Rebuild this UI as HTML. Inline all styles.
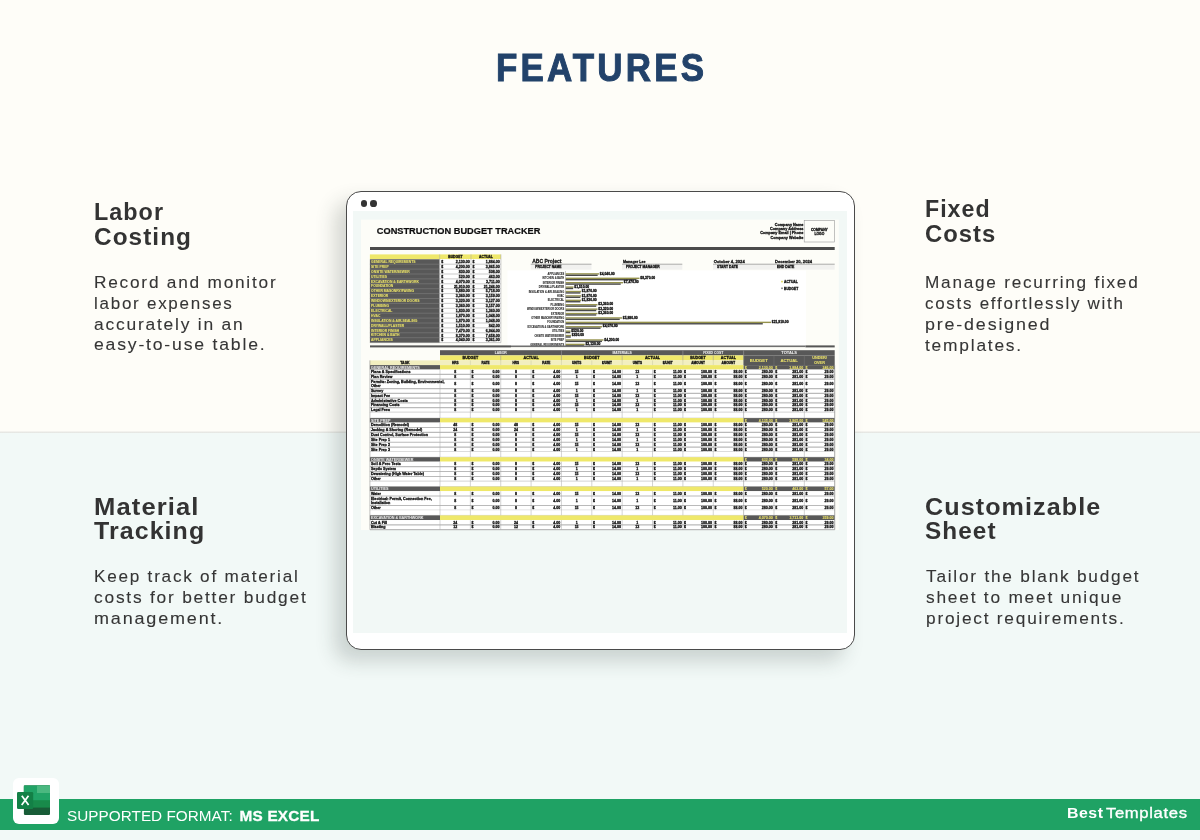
<!DOCTYPE html>
<html><head><meta charset="utf-8"><style>
html,body{margin:0;padding:0;width:1200px;height:840px;overflow:hidden;position:relative;background:#fdfcf7}
body{font-family:"Liberation Sans",sans-serif}
.t{position:absolute;white-space:nowrap;font-family:"Liberation Sans",sans-serif}
#w{position:absolute;left:0;top:0;width:1200px;height:840px;will-change:transform}
</style></head><body><div id="w">
<div style="position:absolute;left:0;top:0;width:1200px;height:432px;background:#fefdf8"></div>
<div style="position:absolute;left:0;top:432px;width:1200px;height:408px;background:#f2f9f7"></div>
<div style="position:absolute;left:0;top:430.5px;width:1200px;height:2.5px;background:linear-gradient(#fefdf8,#e4e3df 60%,#eaefec)"></div>
<div class="t" style="left:496.0px;top:43.81px;font-size:39.5px;line-height:47.4px;font-weight:bold;color:#22426a;letter-spacing:3.6px;transform:scaleX(0.8846);transform-origin:0 0;-webkit-text-stroke:1px #22426a;">FEATURES</div>
<div class="t" style="left:93.7px;top:199.04px;font-size:23.1px;line-height:27.72px;font-weight:bold;color:#333333;letter-spacing:1.0px;transform:scaleX(1.0122);transform-origin:0 0;">Labor</div>
<div class="t" style="left:93.7px;top:223.84px;font-size:23.1px;line-height:27.72px;font-weight:bold;color:#333333;letter-spacing:1.0px;transform:scaleX(1.0547);transform-origin:0 0;">Costing</div>
<div class="t" style="left:93.5px;top:273.09px;font-size:16.6px;line-height:19.92px;font-weight:normal;color:#353535;letter-spacing:1.7px;transform:scaleX(1.0402);transform-origin:0 0;-webkit-text-stroke:0.1px #353535;">Record and monitor</div>
<div class="t" style="left:93.5px;top:293.89px;font-size:16.6px;line-height:19.92px;font-weight:normal;color:#353535;letter-spacing:1.7px;transform:scaleX(1.0239);transform-origin:0 0;-webkit-text-stroke:0.1px #353535;">labor expenses</div>
<div class="t" style="left:93.5px;top:314.69px;font-size:16.6px;line-height:19.92px;font-weight:normal;color:#353535;letter-spacing:1.7px;transform:scaleX(1.0489);transform-origin:0 0;-webkit-text-stroke:0.1px #353535;">accurately in an</div>
<div class="t" style="left:93.5px;top:335.49px;font-size:16.6px;line-height:19.92px;font-weight:normal;color:#353535;letter-spacing:1.7px;transform:scaleX(1.0612);transform-origin:0 0;-webkit-text-stroke:0.1px #353535;">easy-to-use table.</div>
<div class="t" style="left:924.5px;top:195.74px;font-size:23.1px;line-height:27.72px;font-weight:bold;color:#333333;letter-spacing:1.0px;transform:scaleX(1.0041);transform-origin:0 0;">Fixed</div>
<div class="t" style="left:924.5px;top:220.54px;font-size:23.1px;line-height:27.72px;font-weight:bold;color:#333333;letter-spacing:1.0px;transform:scaleX(1.0311);transform-origin:0 0;">Costs</div>
<div class="t" style="left:925.1999999999999px;top:273.19px;font-size:16.6px;line-height:19.92px;font-weight:normal;color:#353535;letter-spacing:1.7px;transform:scaleX(1.0356);transform-origin:0 0;-webkit-text-stroke:0.1px #353535;">Manage recurring fixed</div>
<div class="t" style="left:925.1999999999999px;top:293.99px;font-size:16.6px;line-height:19.92px;font-weight:normal;color:#353535;letter-spacing:1.7px;transform:scaleX(1.0210);transform-origin:0 0;-webkit-text-stroke:0.1px #353535;">costs effortlessly with</div>
<div class="t" style="left:925.1999999999999px;top:314.79px;font-size:16.6px;line-height:19.92px;font-weight:normal;color:#353535;letter-spacing:1.7px;transform:scaleX(1.0770);transform-origin:0 0;-webkit-text-stroke:0.1px #353535;">pre-designed</div>
<div class="t" style="left:925.1999999999999px;top:335.59px;font-size:16.6px;line-height:19.92px;font-weight:normal;color:#353535;letter-spacing:1.7px;transform:scaleX(1.0470);transform-origin:0 0;-webkit-text-stroke:0.1px #353535;">templates.</div>
<div class="t" style="left:93.9px;top:493.64px;font-size:23.1px;line-height:27.72px;font-weight:bold;color:#333333;letter-spacing:1.0px;transform:scaleX(1.1081);transform-origin:0 0;">Material</div>
<div class="t" style="left:93.9px;top:518.44px;font-size:23.1px;line-height:27.72px;font-weight:bold;color:#333333;letter-spacing:1.0px;transform:scaleX(1.0803);transform-origin:0 0;">Tracking</div>
<div class="t" style="left:93.7px;top:567.39px;font-size:16.6px;line-height:19.92px;font-weight:normal;color:#353535;letter-spacing:1.7px;transform:scaleX(1.0337);transform-origin:0 0;-webkit-text-stroke:0.1px #353535;">Keep track of material</div>
<div class="t" style="left:93.7px;top:588.19px;font-size:16.6px;line-height:19.92px;font-weight:normal;color:#353535;letter-spacing:1.7px;transform:scaleX(1.0455);transform-origin:0 0;-webkit-text-stroke:0.1px #353535;">costs for better budget</div>
<div class="t" style="left:93.7px;top:608.99px;font-size:16.6px;line-height:19.92px;font-weight:normal;color:#353535;letter-spacing:1.7px;transform:scaleX(1.0835);transform-origin:0 0;-webkit-text-stroke:0.1px #353535;">management.</div>
<div class="t" style="left:924.9000000000001px;top:493.64px;font-size:23.1px;line-height:27.72px;font-weight:bold;color:#333333;letter-spacing:1.0px;transform:scaleX(1.0877);transform-origin:0 0;">Customizable</div>
<div class="t" style="left:924.9000000000001px;top:518.44px;font-size:23.1px;line-height:27.72px;font-weight:bold;color:#333333;letter-spacing:1.0px;transform:scaleX(1.0537);transform-origin:0 0;">Sheet</div>
<div class="t" style="left:925.6px;top:567.39px;font-size:16.6px;line-height:19.92px;font-weight:normal;color:#353535;letter-spacing:1.7px;transform:scaleX(1.0404);transform-origin:0 0;-webkit-text-stroke:0.1px #353535;">Tailor the blank budget</div>
<div class="t" style="left:925.6px;top:588.19px;font-size:16.6px;line-height:19.92px;font-weight:normal;color:#353535;letter-spacing:1.7px;transform:scaleX(1.0435);transform-origin:0 0;-webkit-text-stroke:0.1px #353535;">sheet to meet unique</div>
<div class="t" style="left:925.6px;top:608.99px;font-size:16.6px;line-height:19.92px;font-weight:normal;color:#353535;letter-spacing:1.7px;transform:scaleX(1.0415);transform-origin:0 0;-webkit-text-stroke:0.1px #353535;">project requirements.</div>
<div style="position:absolute;left:345.5px;top:190.5px;width:509.5px;height:459.5px;box-sizing:border-box;border:1.6px solid #4a4a4a;border-radius:15px;background:#fff;box-shadow:-11px 11px 20px rgba(40,55,50,.2)"></div>
<div style="position:absolute;left:360.7px;top:199.9px;width:6.7px;height:6.7px;border-radius:50%;background:#333"></div>
<div style="position:absolute;left:370.2px;top:199.9px;width:6.7px;height:6.7px;border-radius:50%;background:#333"></div>
<div style="position:absolute;left:353px;top:211px;width:494px;height:422px;background:#f2f8f6"></div>
<svg style="position:absolute;left:0;top:0;will-change:transform" width="1200" height="840" viewBox="0 0 1200 840" font-family="Liberation Sans, sans-serif"><rect x="361.00" y="219.70" width="477.80" height="310.30" fill="#fdfdf8"/><text x="376.80" y="234.30" font-size="8.70" fill="#0d0d0d" stroke="#0d0d0d" stroke-width="0.2" font-weight="bold" textLength="163.60" lengthAdjust="spacingAndGlyphs">CONSTRUCTION BUDGET TRACKER</text><text x="803.40" y="225.60" font-size="3.81" fill="#111" stroke="#111" stroke-width="0.28" font-weight="bold" text-anchor="end">Company Name</text><text x="803.40" y="230.00" font-size="3.81" fill="#111" stroke="#111" stroke-width="0.28" font-weight="bold" text-anchor="end">Company Address</text><text x="803.40" y="234.40" font-size="3.81" fill="#111" stroke="#111" stroke-width="0.28" font-weight="bold" text-anchor="end">Company Email | Phone</text><text x="803.40" y="238.80" font-size="3.81" fill="#111" stroke="#111" stroke-width="0.28" font-weight="bold" text-anchor="end">Company Website</text><rect x="804.20" y="220.60" width="30.30" height="21.40" fill="#fdfdf8" stroke="#9a9a9a" stroke-width="0.6"/><text x="819.40" y="230.60" font-size="3.36" fill="#111" stroke="#111" stroke-width="0.28" font-weight="bold" text-anchor="middle">COMPANY</text><text x="819.40" y="234.60" font-size="3.36" fill="#111" stroke="#111" stroke-width="0.28" font-weight="bold" text-anchor="middle">LOGO</text><rect x="370.00" y="247.00" width="464.70" height="3.00" fill="#4b4b4b"/><rect x="369.90" y="254.40" width="131.00" height="4.90" fill="#efe86a"/><text x="455.35" y="258.40" font-size="3.36" fill="#111" stroke="#111" stroke-width="0.28" font-weight="bold" text-anchor="middle">BUDGET</text><text x="485.95" y="258.40" font-size="3.36" fill="#111" stroke="#111" stroke-width="0.28" font-weight="bold" text-anchor="middle">ACTUAL</text><rect x="369.90" y="259.30" width="69.80" height="83.30" fill="#585858"/><rect x="439.70" y="259.30" width="61.20" height="83.30" fill="#ffffff"/><line x1="369.90" y1="264.20" x2="439.70" y2="264.20" stroke="#808080" stroke-width="0.6"/><line x1="439.70" y1="264.20" x2="500.90" y2="264.20" stroke="#a8a8a8" stroke-width="0.6"/><text x="371.10" y="262.90" font-size="3.36" fill="#e9e16a" stroke="#e9e16a" stroke-width="0.05" font-weight="bold">GENERAL REQUIREMENTS</text><text x="441.20" y="263.00" font-size="3.58" fill="#111" stroke="#111" stroke-width="0.28" font-weight="bold">$</text><text x="469.80" y="263.00" font-size="3.58" fill="#111" stroke="#111" stroke-width="0.28" font-weight="bold" text-anchor="end">2,130.00</text><text x="472.50" y="263.00" font-size="3.58" fill="#111" stroke="#111" stroke-width="0.28" font-weight="bold">$</text><text x="499.70" y="263.00" font-size="3.58" fill="#111" stroke="#111" stroke-width="0.28" font-weight="bold" text-anchor="end">1,884.00</text><line x1="369.90" y1="269.10" x2="439.70" y2="269.10" stroke="#808080" stroke-width="0.6"/><line x1="439.70" y1="269.10" x2="500.90" y2="269.10" stroke="#a8a8a8" stroke-width="0.6"/><text x="371.10" y="267.80" font-size="3.36" fill="#e9e16a" stroke="#e9e16a" stroke-width="0.05" font-weight="bold">SITE PREP</text><text x="441.20" y="267.90" font-size="3.58" fill="#111" stroke="#111" stroke-width="0.28" font-weight="bold">$</text><text x="469.80" y="267.90" font-size="3.58" fill="#111" stroke="#111" stroke-width="0.28" font-weight="bold" text-anchor="end">4,200.00</text><text x="472.50" y="267.90" font-size="3.58" fill="#111" stroke="#111" stroke-width="0.28" font-weight="bold">$</text><text x="499.70" y="267.90" font-size="3.58" fill="#111" stroke="#111" stroke-width="0.28" font-weight="bold" text-anchor="end">3,865.00</text><line x1="369.90" y1="274.00" x2="439.70" y2="274.00" stroke="#808080" stroke-width="0.6"/><line x1="439.70" y1="274.00" x2="500.90" y2="274.00" stroke="#a8a8a8" stroke-width="0.6"/><text x="371.10" y="272.70" font-size="3.36" fill="#e9e16a" stroke="#e9e16a" stroke-width="0.05" font-weight="bold">ONSITE WATER/SEWER</text><text x="441.20" y="272.80" font-size="3.58" fill="#111" stroke="#111" stroke-width="0.28" font-weight="bold">$</text><text x="469.80" y="272.80" font-size="3.58" fill="#111" stroke="#111" stroke-width="0.28" font-weight="bold" text-anchor="end">830.00</text><text x="472.50" y="272.80" font-size="3.58" fill="#111" stroke="#111" stroke-width="0.28" font-weight="bold">$</text><text x="499.70" y="272.80" font-size="3.58" fill="#111" stroke="#111" stroke-width="0.28" font-weight="bold" text-anchor="end">508.00</text><line x1="369.90" y1="278.90" x2="439.70" y2="278.90" stroke="#808080" stroke-width="0.6"/><line x1="439.70" y1="278.90" x2="500.90" y2="278.90" stroke="#a8a8a8" stroke-width="0.6"/><text x="371.10" y="277.60" font-size="3.36" fill="#e9e16a" stroke="#e9e16a" stroke-width="0.05" font-weight="bold">UTILITIES</text><text x="441.20" y="277.70" font-size="3.58" fill="#111" stroke="#111" stroke-width="0.28" font-weight="bold">$</text><text x="469.80" y="277.70" font-size="3.58" fill="#111" stroke="#111" stroke-width="0.28" font-weight="bold" text-anchor="end">520.00</text><text x="472.50" y="277.70" font-size="3.58" fill="#111" stroke="#111" stroke-width="0.28" font-weight="bold">$</text><text x="499.70" y="277.70" font-size="3.58" fill="#111" stroke="#111" stroke-width="0.28" font-weight="bold" text-anchor="end">463.00</text><line x1="369.90" y1="283.80" x2="439.70" y2="283.80" stroke="#808080" stroke-width="0.6"/><line x1="439.70" y1="283.80" x2="500.90" y2="283.80" stroke="#a8a8a8" stroke-width="0.6"/><text x="371.10" y="282.50" font-size="3.36" fill="#e9e16a" stroke="#e9e16a" stroke-width="0.05" font-weight="bold">EXCAVATION &amp; EARTHWORK</text><text x="441.20" y="282.60" font-size="3.58" fill="#111" stroke="#111" stroke-width="0.28" font-weight="bold">$</text><text x="469.80" y="282.60" font-size="3.58" fill="#111" stroke="#111" stroke-width="0.28" font-weight="bold" text-anchor="end">4,070.00</text><text x="472.50" y="282.60" font-size="3.58" fill="#111" stroke="#111" stroke-width="0.28" font-weight="bold">$</text><text x="499.70" y="282.60" font-size="3.58" fill="#111" stroke="#111" stroke-width="0.28" font-weight="bold" text-anchor="end">3,711.00</text><line x1="369.90" y1="288.70" x2="439.70" y2="288.70" stroke="#808080" stroke-width="0.6"/><line x1="439.70" y1="288.70" x2="500.90" y2="288.70" stroke="#a8a8a8" stroke-width="0.6"/><text x="371.10" y="287.40" font-size="3.36" fill="#e9e16a" stroke="#e9e16a" stroke-width="0.05" font-weight="bold">FOUNDATION</text><text x="441.20" y="287.50" font-size="3.58" fill="#111" stroke="#111" stroke-width="0.28" font-weight="bold">$</text><text x="469.80" y="287.50" font-size="3.58" fill="#111" stroke="#111" stroke-width="0.28" font-weight="bold" text-anchor="end">21,910.00</text><text x="472.50" y="287.50" font-size="3.58" fill="#111" stroke="#111" stroke-width="0.28" font-weight="bold">$</text><text x="499.70" y="287.50" font-size="3.58" fill="#111" stroke="#111" stroke-width="0.28" font-weight="bold" text-anchor="end">21,246.00</text><line x1="369.90" y1="293.60" x2="439.70" y2="293.60" stroke="#808080" stroke-width="0.6"/><line x1="439.70" y1="293.60" x2="500.90" y2="293.60" stroke="#a8a8a8" stroke-width="0.6"/><text x="371.10" y="292.30" font-size="3.36" fill="#e9e16a" stroke="#e9e16a" stroke-width="0.05" font-weight="bold">OTHER MASONRY/PAVING</text><text x="441.20" y="292.40" font-size="3.58" fill="#111" stroke="#111" stroke-width="0.28" font-weight="bold">$</text><text x="469.80" y="292.40" font-size="3.58" fill="#111" stroke="#111" stroke-width="0.28" font-weight="bold" text-anchor="end">5,880.00</text><text x="472.50" y="292.40" font-size="3.58" fill="#111" stroke="#111" stroke-width="0.28" font-weight="bold">$</text><text x="499.70" y="292.40" font-size="3.58" fill="#111" stroke="#111" stroke-width="0.28" font-weight="bold" text-anchor="end">5,718.00</text><line x1="369.90" y1="298.50" x2="439.70" y2="298.50" stroke="#808080" stroke-width="0.6"/><line x1="439.70" y1="298.50" x2="500.90" y2="298.50" stroke="#a8a8a8" stroke-width="0.6"/><text x="371.10" y="297.20" font-size="3.36" fill="#e9e16a" stroke="#e9e16a" stroke-width="0.05" font-weight="bold">EXTERIOR</text><text x="441.20" y="297.30" font-size="3.58" fill="#111" stroke="#111" stroke-width="0.28" font-weight="bold">$</text><text x="469.80" y="297.30" font-size="3.58" fill="#111" stroke="#111" stroke-width="0.28" font-weight="bold" text-anchor="end">3,360.00</text><text x="472.50" y="297.30" font-size="3.58" fill="#111" stroke="#111" stroke-width="0.28" font-weight="bold">$</text><text x="499.70" y="297.30" font-size="3.58" fill="#111" stroke="#111" stroke-width="0.28" font-weight="bold" text-anchor="end">3,159.00</text><line x1="369.90" y1="303.40" x2="439.70" y2="303.40" stroke="#808080" stroke-width="0.6"/><line x1="439.70" y1="303.40" x2="500.90" y2="303.40" stroke="#a8a8a8" stroke-width="0.6"/><text x="371.10" y="302.10" font-size="3.36" fill="#e9e16a" stroke="#e9e16a" stroke-width="0.05" font-weight="bold">WINDOWS/EXTERIOR DOORS</text><text x="441.20" y="302.20" font-size="3.58" fill="#111" stroke="#111" stroke-width="0.28" font-weight="bold">$</text><text x="469.80" y="302.20" font-size="3.58" fill="#111" stroke="#111" stroke-width="0.28" font-weight="bold" text-anchor="end">3,320.00</text><text x="472.50" y="302.20" font-size="3.58" fill="#111" stroke="#111" stroke-width="0.28" font-weight="bold">$</text><text x="499.70" y="302.20" font-size="3.58" fill="#111" stroke="#111" stroke-width="0.28" font-weight="bold" text-anchor="end">3,127.00</text><line x1="369.90" y1="308.30" x2="439.70" y2="308.30" stroke="#808080" stroke-width="0.6"/><line x1="439.70" y1="308.30" x2="500.90" y2="308.30" stroke="#a8a8a8" stroke-width="0.6"/><text x="371.10" y="307.00" font-size="3.36" fill="#e9e16a" stroke="#e9e16a" stroke-width="0.05" font-weight="bold">PLUMBING</text><text x="441.20" y="307.10" font-size="3.58" fill="#111" stroke="#111" stroke-width="0.28" font-weight="bold">$</text><text x="469.80" y="307.10" font-size="3.58" fill="#111" stroke="#111" stroke-width="0.28" font-weight="bold" text-anchor="end">3,360.00</text><text x="472.50" y="307.10" font-size="3.58" fill="#111" stroke="#111" stroke-width="0.28" font-weight="bold">$</text><text x="499.70" y="307.10" font-size="3.58" fill="#111" stroke="#111" stroke-width="0.28" font-weight="bold" text-anchor="end">3,157.00</text><line x1="369.90" y1="313.20" x2="439.70" y2="313.20" stroke="#808080" stroke-width="0.6"/><line x1="439.70" y1="313.20" x2="500.90" y2="313.20" stroke="#a8a8a8" stroke-width="0.6"/><text x="371.10" y="311.90" font-size="3.36" fill="#e9e16a" stroke="#e9e16a" stroke-width="0.05" font-weight="bold">ELECTRICAL</text><text x="441.20" y="312.00" font-size="3.58" fill="#111" stroke="#111" stroke-width="0.28" font-weight="bold">$</text><text x="469.80" y="312.00" font-size="3.58" fill="#111" stroke="#111" stroke-width="0.28" font-weight="bold" text-anchor="end">1,830.00</text><text x="472.50" y="312.00" font-size="3.58" fill="#111" stroke="#111" stroke-width="0.28" font-weight="bold">$</text><text x="499.70" y="312.00" font-size="3.58" fill="#111" stroke="#111" stroke-width="0.28" font-weight="bold" text-anchor="end">1,360.00</text><line x1="369.90" y1="318.10" x2="439.70" y2="318.10" stroke="#808080" stroke-width="0.6"/><line x1="439.70" y1="318.10" x2="500.90" y2="318.10" stroke="#a8a8a8" stroke-width="0.6"/><text x="371.10" y="316.80" font-size="3.36" fill="#e9e16a" stroke="#e9e16a" stroke-width="0.05" font-weight="bold">HVAC</text><text x="441.20" y="316.90" font-size="3.58" fill="#111" stroke="#111" stroke-width="0.28" font-weight="bold">$</text><text x="469.80" y="316.90" font-size="3.58" fill="#111" stroke="#111" stroke-width="0.28" font-weight="bold" text-anchor="end">1,870.00</text><text x="472.50" y="316.90" font-size="3.58" fill="#111" stroke="#111" stroke-width="0.28" font-weight="bold">$</text><text x="499.70" y="316.90" font-size="3.58" fill="#111" stroke="#111" stroke-width="0.28" font-weight="bold" text-anchor="end">1,048.00</text><line x1="369.90" y1="323.00" x2="439.70" y2="323.00" stroke="#808080" stroke-width="0.6"/><line x1="439.70" y1="323.00" x2="500.90" y2="323.00" stroke="#a8a8a8" stroke-width="0.6"/><text x="371.10" y="321.70" font-size="3.36" fill="#e9e16a" stroke="#e9e16a" stroke-width="0.05" font-weight="bold">INSULATION &amp; AIR-SEALING</text><text x="441.20" y="321.80" font-size="3.58" fill="#111" stroke="#111" stroke-width="0.28" font-weight="bold">$</text><text x="469.80" y="321.80" font-size="3.58" fill="#111" stroke="#111" stroke-width="0.28" font-weight="bold" text-anchor="end">1,870.00</text><text x="472.50" y="321.80" font-size="3.58" fill="#111" stroke="#111" stroke-width="0.28" font-weight="bold">$</text><text x="499.70" y="321.80" font-size="3.58" fill="#111" stroke="#111" stroke-width="0.28" font-weight="bold" text-anchor="end">1,048.00</text><line x1="369.90" y1="327.90" x2="439.70" y2="327.90" stroke="#808080" stroke-width="0.6"/><line x1="439.70" y1="327.90" x2="500.90" y2="327.90" stroke="#a8a8a8" stroke-width="0.6"/><text x="371.10" y="326.60" font-size="3.36" fill="#e9e16a" stroke="#e9e16a" stroke-width="0.05" font-weight="bold">DRYWALL/PLASTER</text><text x="441.20" y="326.70" font-size="3.58" fill="#111" stroke="#111" stroke-width="0.28" font-weight="bold">$</text><text x="469.80" y="326.70" font-size="3.58" fill="#111" stroke="#111" stroke-width="0.28" font-weight="bold" text-anchor="end">1,510.00</text><text x="472.50" y="326.70" font-size="3.58" fill="#111" stroke="#111" stroke-width="0.28" font-weight="bold">$</text><text x="499.70" y="326.70" font-size="3.58" fill="#111" stroke="#111" stroke-width="0.28" font-weight="bold" text-anchor="end">842.00</text><line x1="369.90" y1="332.80" x2="439.70" y2="332.80" stroke="#808080" stroke-width="0.6"/><line x1="439.70" y1="332.80" x2="500.90" y2="332.80" stroke="#a8a8a8" stroke-width="0.6"/><text x="371.10" y="331.50" font-size="3.36" fill="#e9e16a" stroke="#e9e16a" stroke-width="0.05" font-weight="bold">INTERIOR FINISH</text><text x="441.20" y="331.60" font-size="3.58" fill="#111" stroke="#111" stroke-width="0.28" font-weight="bold">$</text><text x="469.80" y="331.60" font-size="3.58" fill="#111" stroke="#111" stroke-width="0.28" font-weight="bold" text-anchor="end">7,470.00</text><text x="472.50" y="331.60" font-size="3.58" fill="#111" stroke="#111" stroke-width="0.28" font-weight="bold">$</text><text x="499.70" y="331.60" font-size="3.58" fill="#111" stroke="#111" stroke-width="0.28" font-weight="bold" text-anchor="end">6,944.00</text><line x1="369.90" y1="337.70" x2="439.70" y2="337.70" stroke="#808080" stroke-width="0.6"/><line x1="439.70" y1="337.70" x2="500.90" y2="337.70" stroke="#a8a8a8" stroke-width="0.6"/><text x="371.10" y="336.40" font-size="3.36" fill="#e9e16a" stroke="#e9e16a" stroke-width="0.05" font-weight="bold">KITCHEN &amp; BATH</text><text x="441.20" y="336.50" font-size="3.58" fill="#111" stroke="#111" stroke-width="0.28" font-weight="bold">$</text><text x="469.80" y="336.50" font-size="3.58" fill="#111" stroke="#111" stroke-width="0.28" font-weight="bold" text-anchor="end">8,370.00</text><text x="472.50" y="336.50" font-size="3.58" fill="#111" stroke="#111" stroke-width="0.28" font-weight="bold">$</text><text x="499.70" y="336.50" font-size="3.58" fill="#111" stroke="#111" stroke-width="0.28" font-weight="bold" text-anchor="end">7,658.00</text><line x1="369.90" y1="342.60" x2="439.70" y2="342.60" stroke="#808080" stroke-width="0.6"/><line x1="439.70" y1="342.60" x2="500.90" y2="342.60" stroke="#a8a8a8" stroke-width="0.6"/><text x="371.10" y="341.30" font-size="3.36" fill="#e9e16a" stroke="#e9e16a" stroke-width="0.05" font-weight="bold">APPLIANCES</text><text x="441.20" y="341.40" font-size="3.58" fill="#111" stroke="#111" stroke-width="0.28" font-weight="bold">$</text><text x="469.80" y="341.40" font-size="3.58" fill="#111" stroke="#111" stroke-width="0.28" font-weight="bold" text-anchor="end">4,040.00</text><text x="472.50" y="341.40" font-size="3.58" fill="#111" stroke="#111" stroke-width="0.28" font-weight="bold">$</text><text x="499.70" y="341.40" font-size="3.58" fill="#111" stroke="#111" stroke-width="0.28" font-weight="bold" text-anchor="end">3,361.00</text><line x1="439.70" y1="254.40" x2="439.70" y2="342.60" stroke="#a8a8a8" stroke-width="0.5"/><line x1="471.00" y1="254.40" x2="471.00" y2="342.60" stroke="#a8a8a8" stroke-width="0.5"/><line x1="500.90" y1="254.40" x2="500.90" y2="342.60" stroke="#a8a8a8" stroke-width="0.6"/><rect x="530.70" y="264.40" width="60.80" height="5.20" fill="#f1f1ef"/><rect x="622.00" y="264.40" width="60.30" height="5.20" fill="#f1f1ef"/><rect x="713.00" y="264.40" width="121.70" height="5.20" fill="#f1f1ef"/><text x="532.20" y="262.70" font-size="5.38" fill="#111" stroke="#111" stroke-width="0.28" font-weight="bold" textLength="29.20" lengthAdjust="spacingAndGlyphs">ABC Project</text><line x1="530.70" y1="264.20" x2="591.50" y2="264.20" stroke="#8a8a8a" stroke-width="0.7"/><text x="535.20" y="268.20" font-size="3.36" fill="#111" stroke="#111" stroke-width="0.28" font-weight="bold" textLength="26.30" lengthAdjust="spacingAndGlyphs">PROJECT NAME</text><text x="623.00" y="262.60" font-size="4.37" fill="#111" stroke="#111" stroke-width="0.28" font-weight="bold" textLength="22.50" lengthAdjust="spacingAndGlyphs">Manager Lee</text><line x1="622.00" y1="264.20" x2="682.30" y2="264.20" stroke="#8a8a8a" stroke-width="0.7"/><text x="626.00" y="268.20" font-size="3.36" fill="#111" stroke="#111" stroke-width="0.28" font-weight="bold" textLength="33.70" lengthAdjust="spacingAndGlyphs">PROJECT MANAGER</text><text x="713.80" y="262.60" font-size="4.37" fill="#111" stroke="#111" stroke-width="0.28" font-weight="bold" textLength="30.90" lengthAdjust="spacingAndGlyphs">October 4, 2024</text><text x="775.00" y="262.60" font-size="4.37" fill="#111" stroke="#111" stroke-width="0.28" font-weight="bold" textLength="37.00" lengthAdjust="spacingAndGlyphs">December 20, 2024</text><line x1="713.00" y1="264.20" x2="834.70" y2="264.20" stroke="#8a8a8a" stroke-width="0.7"/><text x="717.00" y="268.20" font-size="3.36" fill="#111" stroke="#111" stroke-width="0.28" font-weight="bold" textLength="21.00" lengthAdjust="spacingAndGlyphs">START DATE</text><text x="777.00" y="268.20" font-size="3.36" fill="#111" stroke="#111" stroke-width="0.28" font-weight="bold" textLength="17.40" lengthAdjust="spacingAndGlyphs">END DATE</text><rect x="507.50" y="270.50" width="298.50" height="75.50" fill="#ffffff"/><text x="564.20" y="275.00" font-size="2.58" fill="#1a1a1a" stroke="#1a1a1a" stroke-width="0.05" font-weight="bold" text-anchor="end">APPLIANCES</text><rect x="565.50" y="273.20" width="33.50" height="1.40" fill="#95924c"/><rect x="565.50" y="274.60" width="32.16" height="1.40" fill="#4a4a4a"/><text x="599.80" y="274.60" font-size="3.36" fill="#111" stroke="#111" stroke-width="0.28" font-weight="bold">$4,040.00</text><text x="564.20" y="279.41" font-size="2.58" fill="#1a1a1a" stroke="#1a1a1a" stroke-width="0.05" font-weight="bold" text-anchor="end">KITCHEN &amp; BATH</text><rect x="565.50" y="277.61" width="74.00" height="1.40" fill="#95924c"/><rect x="565.50" y="279.01" width="71.04" height="1.40" fill="#4a4a4a"/><text x="640.30" y="279.01" font-size="3.36" fill="#111" stroke="#111" stroke-width="0.28" font-weight="bold">$8,370.00</text><text x="564.20" y="283.81" font-size="2.58" fill="#1a1a1a" stroke="#1a1a1a" stroke-width="0.05" font-weight="bold" text-anchor="end">INTERIOR FINISH</text><rect x="565.50" y="282.01" width="57.50" height="1.40" fill="#95924c"/><rect x="565.50" y="283.41" width="55.20" height="1.40" fill="#4a4a4a"/><text x="623.80" y="283.41" font-size="3.36" fill="#111" stroke="#111" stroke-width="0.28" font-weight="bold">$7,470.00</text><text x="564.20" y="288.22" font-size="2.58" fill="#1a1a1a" stroke="#1a1a1a" stroke-width="0.05" font-weight="bold" text-anchor="end">DRYWALL/PLASTER</text><rect x="565.50" y="286.42" width="8.00" height="1.40" fill="#95924c"/><rect x="565.50" y="287.82" width="7.68" height="1.40" fill="#4a4a4a"/><text x="574.30" y="287.82" font-size="3.36" fill="#111" stroke="#111" stroke-width="0.28" font-weight="bold">$1,510.00</text><text x="564.20" y="292.62" font-size="2.58" fill="#1a1a1a" stroke="#1a1a1a" stroke-width="0.05" font-weight="bold" text-anchor="end">INSULATION &amp; AIR-SEALING</text><rect x="565.50" y="290.82" width="15.50" height="1.40" fill="#95924c"/><rect x="565.50" y="292.23" width="14.88" height="1.40" fill="#4a4a4a"/><text x="581.80" y="292.23" font-size="3.36" fill="#111" stroke="#111" stroke-width="0.28" font-weight="bold">$1,870.00</text><text x="564.20" y="297.03" font-size="2.58" fill="#1a1a1a" stroke="#1a1a1a" stroke-width="0.05" font-weight="bold" text-anchor="end">HVAC</text><rect x="565.50" y="295.23" width="15.50" height="1.40" fill="#95924c"/><rect x="565.50" y="296.63" width="14.88" height="1.40" fill="#4a4a4a"/><text x="581.80" y="296.63" font-size="3.36" fill="#111" stroke="#111" stroke-width="0.28" font-weight="bold">$1,870.00</text><text x="564.20" y="301.44" font-size="2.58" fill="#1a1a1a" stroke="#1a1a1a" stroke-width="0.05" font-weight="bold" text-anchor="end">ELECTRICAL</text><rect x="565.50" y="299.64" width="15.50" height="1.40" fill="#95924c"/><rect x="565.50" y="301.04" width="14.88" height="1.40" fill="#4a4a4a"/><text x="581.80" y="301.04" font-size="3.36" fill="#111" stroke="#111" stroke-width="0.28" font-weight="bold">$1,830.00</text><text x="564.20" y="305.84" font-size="2.58" fill="#1a1a1a" stroke="#1a1a1a" stroke-width="0.05" font-weight="bold" text-anchor="end">PLUMBING</text><rect x="565.50" y="304.04" width="32.00" height="1.40" fill="#95924c"/><rect x="565.50" y="305.44" width="30.72" height="1.40" fill="#4a4a4a"/><text x="598.30" y="305.44" font-size="3.36" fill="#111" stroke="#111" stroke-width="0.28" font-weight="bold">$3,360.00</text><text x="564.20" y="310.25" font-size="2.58" fill="#1a1a1a" stroke="#1a1a1a" stroke-width="0.05" font-weight="bold" text-anchor="end">WINDOWS/EXTERIOR DOORS</text><rect x="565.50" y="308.45" width="32.00" height="1.40" fill="#95924c"/><rect x="565.50" y="309.85" width="30.72" height="1.40" fill="#4a4a4a"/><text x="598.30" y="309.85" font-size="3.36" fill="#111" stroke="#111" stroke-width="0.28" font-weight="bold">$3,320.00</text><text x="564.20" y="314.66" font-size="2.58" fill="#1a1a1a" stroke="#1a1a1a" stroke-width="0.05" font-weight="bold" text-anchor="end">EXTERIOR</text><rect x="565.50" y="312.86" width="32.00" height="1.40" fill="#95924c"/><rect x="565.50" y="314.26" width="30.72" height="1.40" fill="#4a4a4a"/><text x="598.30" y="314.26" font-size="3.36" fill="#111" stroke="#111" stroke-width="0.28" font-weight="bold">$3,360.00</text><text x="564.20" y="319.06" font-size="2.58" fill="#1a1a1a" stroke="#1a1a1a" stroke-width="0.05" font-weight="bold" text-anchor="end">OTHER MASONRY/PAVING</text><rect x="565.50" y="317.26" width="56.50" height="1.40" fill="#95924c"/><rect x="565.50" y="318.66" width="54.24" height="1.40" fill="#4a4a4a"/><text x="622.80" y="318.66" font-size="3.36" fill="#111" stroke="#111" stroke-width="0.28" font-weight="bold">$5,880.00</text><text x="564.20" y="323.47" font-size="2.58" fill="#1a1a1a" stroke="#1a1a1a" stroke-width="0.05" font-weight="bold" text-anchor="end">FOUNDATION</text><rect x="565.50" y="321.67" width="205.50" height="1.40" fill="#95924c"/><rect x="565.50" y="323.07" width="197.28" height="1.40" fill="#4a4a4a"/><text x="771.80" y="323.07" font-size="3.36" fill="#111" stroke="#111" stroke-width="0.28" font-weight="bold">$21,910.00</text><text x="564.20" y="327.88" font-size="2.58" fill="#1a1a1a" stroke="#1a1a1a" stroke-width="0.05" font-weight="bold" text-anchor="end">EXCAVATION &amp; EARTHWORK</text><rect x="565.50" y="326.07" width="36.50" height="1.40" fill="#95924c"/><rect x="565.50" y="327.48" width="35.04" height="1.40" fill="#4a4a4a"/><text x="602.80" y="327.48" font-size="3.36" fill="#111" stroke="#111" stroke-width="0.28" font-weight="bold">$4,070.00</text><text x="564.20" y="332.28" font-size="2.58" fill="#1a1a1a" stroke="#1a1a1a" stroke-width="0.05" font-weight="bold" text-anchor="end">UTILITIES</text><rect x="565.50" y="330.48" width="5.00" height="1.40" fill="#95924c"/><rect x="565.50" y="331.88" width="4.80" height="1.40" fill="#4a4a4a"/><text x="571.30" y="331.88" font-size="3.36" fill="#111" stroke="#111" stroke-width="0.28" font-weight="bold">$520.00</text><text x="564.20" y="336.69" font-size="2.58" fill="#1a1a1a" stroke="#1a1a1a" stroke-width="0.05" font-weight="bold" text-anchor="end">ONSITE WATER/SEWER</text><rect x="565.50" y="334.89" width="5.50" height="1.40" fill="#95924c"/><rect x="565.50" y="336.29" width="5.28" height="1.40" fill="#4a4a4a"/><text x="571.80" y="336.29" font-size="3.36" fill="#111" stroke="#111" stroke-width="0.28" font-weight="bold">$830.00</text><text x="564.20" y="341.09" font-size="2.58" fill="#1a1a1a" stroke="#1a1a1a" stroke-width="0.05" font-weight="bold" text-anchor="end">SITE PREP</text><rect x="565.50" y="339.29" width="38.00" height="1.40" fill="#95924c"/><rect x="565.50" y="340.69" width="36.48" height="1.40" fill="#4a4a4a"/><text x="604.30" y="340.69" font-size="3.36" fill="#111" stroke="#111" stroke-width="0.28" font-weight="bold">$4,200.00</text><text x="564.20" y="345.50" font-size="2.58" fill="#1a1a1a" stroke="#1a1a1a" stroke-width="0.05" font-weight="bold" text-anchor="end">GENERAL REQUIREMENTS</text><rect x="565.50" y="343.70" width="19.20" height="1.40" fill="#95924c"/><rect x="565.50" y="345.10" width="18.43" height="1.40" fill="#4a4a4a"/><text x="585.50" y="345.10" font-size="3.36" fill="#111" stroke="#111" stroke-width="0.28" font-weight="bold">$2,130.00</text><line x1="565.50" y1="271.00" x2="565.50" y2="346.00" stroke="#9a9a9a" stroke-width="0.5"/><rect x="781.20" y="280.80" width="1.60" height="1.60" fill="#d9d24e"/><text x="784.00" y="283.00" font-size="3.36" fill="#111" stroke="#111" stroke-width="0.28" font-weight="bold">ACTUAL</text><rect x="781.20" y="287.50" width="1.60" height="1.60" fill="#777"/><text x="784.00" y="289.60" font-size="3.36" fill="#111" stroke="#111" stroke-width="0.28" font-weight="bold">BUDGET</text><rect x="370.00" y="345.40" width="141.00" height="2.00" fill="#555555"/><rect x="511.00" y="345.50" width="294.50" height="1.60" fill="#707070"/><rect x="805.50" y="345.40" width="29.20" height="2.00" fill="#555555"/><rect x="440.00" y="350.20" width="394.70" height="5.20" fill="#585858"/><text x="500.72" y="354.20" font-size="3.36" fill="#eee" stroke="#eee" stroke-width="0.05" font-weight="bold" text-anchor="middle">LABOR</text><text x="622.17" y="354.20" font-size="3.36" fill="#eee" stroke="#eee" stroke-width="0.05" font-weight="bold" text-anchor="middle">MATERIALS</text><text x="713.25" y="354.20" font-size="3.36" fill="#eee" stroke="#eee" stroke-width="0.05" font-weight="bold" text-anchor="middle">FIXED COST</text><text x="789.16" y="354.40" font-size="4.03" fill="#eee" stroke="#eee" stroke-width="0.05" font-weight="bold" text-anchor="middle">TOTALS</text><rect x="440.00" y="355.40" width="303.62" height="5.00" fill="#efe86a"/><text x="470.36" y="359.30" font-size="3.70" fill="#111" stroke="#111" stroke-width="0.28" font-weight="bold" text-anchor="middle">BUDGET</text><text x="531.08" y="359.30" font-size="3.70" fill="#111" stroke="#111" stroke-width="0.28" font-weight="bold" text-anchor="middle">ACTUAL</text><text x="591.81" y="359.30" font-size="3.70" fill="#111" stroke="#111" stroke-width="0.28" font-weight="bold" text-anchor="middle">BUDGET</text><text x="652.53" y="359.30" font-size="3.70" fill="#111" stroke="#111" stroke-width="0.28" font-weight="bold" text-anchor="middle">ACTUAL</text><text x="698.07" y="359.30" font-size="3.70" fill="#111" stroke="#111" stroke-width="0.28" font-weight="bold" text-anchor="middle">BUDGET</text><text x="728.43" y="359.30" font-size="3.70" fill="#111" stroke="#111" stroke-width="0.28" font-weight="bold" text-anchor="middle">ACTUAL</text><rect x="369.90" y="360.40" width="373.72" height="4.70" fill="#f2efc0"/><text x="404.95" y="364.10" font-size="3.58" fill="#111" stroke="#111" stroke-width="0.28" font-weight="bold" text-anchor="middle">TASK</text><text x="455.18" y="364.00" font-size="3.14" fill="#111" stroke="#111" stroke-width="0.28" font-weight="bold" text-anchor="middle">HRS</text><text x="485.54" y="364.00" font-size="3.14" fill="#111" stroke="#111" stroke-width="0.28" font-weight="bold" text-anchor="middle">RATE</text><text x="515.90" y="364.00" font-size="3.14" fill="#111" stroke="#111" stroke-width="0.28" font-weight="bold" text-anchor="middle">HRS</text><text x="546.27" y="364.00" font-size="3.14" fill="#111" stroke="#111" stroke-width="0.28" font-weight="bold" text-anchor="middle">RATE</text><text x="576.63" y="364.00" font-size="3.14" fill="#111" stroke="#111" stroke-width="0.28" font-weight="bold" text-anchor="middle">UNITS</text><text x="606.99" y="364.00" font-size="3.14" fill="#111" stroke="#111" stroke-width="0.28" font-weight="bold" text-anchor="middle">$/UNIT</text><text x="637.35" y="364.00" font-size="3.14" fill="#111" stroke="#111" stroke-width="0.28" font-weight="bold" text-anchor="middle">UNITS</text><text x="667.71" y="364.00" font-size="3.14" fill="#111" stroke="#111" stroke-width="0.28" font-weight="bold" text-anchor="middle">$/UNIT</text><text x="698.07" y="364.00" font-size="3.14" fill="#111" stroke="#111" stroke-width="0.28" font-weight="bold" text-anchor="middle">AMOUNT</text><text x="728.43" y="364.00" font-size="3.14" fill="#111" stroke="#111" stroke-width="0.28" font-weight="bold" text-anchor="middle">AMOUNT</text><rect x="743.62" y="355.40" width="91.08" height="9.70" fill="#585858"/><text x="758.80" y="361.60" font-size="4.26" fill="#ece36c" stroke="#ece36c" stroke-width="0.05" font-weight="bold" text-anchor="middle">BUDGET</text><text x="789.16" y="361.60" font-size="4.26" fill="#ece36c" stroke="#ece36c" stroke-width="0.05" font-weight="bold" text-anchor="middle">ACTUAL</text><text x="819.52" y="359.40" font-size="3.81" fill="#ece36c" stroke="#ece36c" stroke-width="0.05" font-weight="bold" text-anchor="middle">UNDER/</text><text x="819.52" y="363.60" font-size="3.81" fill="#ece36c" stroke="#ece36c" stroke-width="0.05" font-weight="bold" text-anchor="middle">OVER</text><line x1="369.90" y1="360.40" x2="369.90" y2="365.10" stroke="#777" stroke-width="0.5"/><line x1="561.45" y1="350.20" x2="561.45" y2="355.40" stroke="#8a8a8a" stroke-width="0.8"/><line x1="682.89" y1="350.20" x2="682.89" y2="355.40" stroke="#8a8a8a" stroke-width="0.8"/><line x1="743.62" y1="350.20" x2="743.62" y2="355.40" stroke="#8a8a8a" stroke-width="0.8"/><line x1="500.72" y1="355.40" x2="500.72" y2="360.40" stroke="#b9b38a" stroke-width="0.8"/><line x1="561.45" y1="355.40" x2="561.45" y2="360.40" stroke="#b9b38a" stroke-width="0.8"/><line x1="622.17" y1="355.40" x2="622.17" y2="360.40" stroke="#b9b38a" stroke-width="0.8"/><line x1="682.89" y1="355.40" x2="682.89" y2="360.40" stroke="#b9b38a" stroke-width="0.8"/><line x1="713.25" y1="355.40" x2="713.25" y2="360.40" stroke="#b9b38a" stroke-width="0.8"/><line x1="743.62" y1="355.40" x2="743.62" y2="360.40" stroke="#b9b38a" stroke-width="0.8"/><line x1="470.36" y1="360.40" x2="470.36" y2="365.10" stroke="#c8c8a0" stroke-width="0.5"/><line x1="500.72" y1="360.40" x2="500.72" y2="365.10" stroke="#c8c8a0" stroke-width="0.5"/><line x1="531.08" y1="360.40" x2="531.08" y2="365.10" stroke="#c8c8a0" stroke-width="0.5"/><line x1="561.45" y1="360.40" x2="561.45" y2="365.10" stroke="#c8c8a0" stroke-width="0.5"/><line x1="591.81" y1="360.40" x2="591.81" y2="365.10" stroke="#c8c8a0" stroke-width="0.5"/><line x1="622.17" y1="360.40" x2="622.17" y2="365.10" stroke="#c8c8a0" stroke-width="0.5"/><line x1="652.53" y1="360.40" x2="652.53" y2="365.10" stroke="#c8c8a0" stroke-width="0.5"/><line x1="682.89" y1="360.40" x2="682.89" y2="365.10" stroke="#c8c8a0" stroke-width="0.5"/><line x1="713.25" y1="360.40" x2="713.25" y2="365.10" stroke="#c8c8a0" stroke-width="0.5"/><line x1="743.62" y1="355.40" x2="743.62" y2="365.10" stroke="#777" stroke-width="0.5"/><line x1="773.98" y1="355.40" x2="773.98" y2="365.10" stroke="#777" stroke-width="0.5"/><line x1="804.34" y1="355.40" x2="804.34" y2="365.10" stroke="#777" stroke-width="0.5"/><rect x="369.90" y="365.10" width="70.10" height="4.50" fill="#585858"/><text x="371.10" y="368.70" font-size="3.70" fill="#e6e6e6" stroke="#e6e6e6" stroke-width="0.05" font-weight="bold">GENERAL REQUIREMENTS</text><rect x="440.00" y="365.10" width="303.62" height="4.50" fill="#efe86a"/><rect x="743.62" y="365.10" width="91.08" height="4.50" fill="#585858"/><text x="744.82" y="368.70" font-size="3.58" fill="#ece36c" stroke="#ece36c" stroke-width="0.05" font-weight="bold">$</text><text x="772.78" y="368.70" font-size="3.58" fill="#ece36c" stroke="#ece36c" stroke-width="0.05" font-weight="bold" text-anchor="end">2,130.00</text><text x="775.18" y="368.70" font-size="3.58" fill="#ece36c" stroke="#ece36c" stroke-width="0.05" font-weight="bold">$</text><text x="803.14" y="368.70" font-size="3.58" fill="#ece36c" stroke="#ece36c" stroke-width="0.05" font-weight="bold" text-anchor="end">1,884.00</text><text x="805.54" y="368.70" font-size="3.58" fill="#ece36c" stroke="#ece36c" stroke-width="0.05" font-weight="bold">$</text><text x="833.50" y="368.70" font-size="3.58" fill="#ece36c" stroke="#ece36c" stroke-width="0.05" font-weight="bold" text-anchor="end">246.00</text><rect x="369.90" y="369.60" width="464.80" height="42.80" fill="#ffffff"/><text x="370.90" y="373.08" font-size="3.70" fill="#111" stroke="#111" stroke-width="0.28" font-weight="bold">Plans &amp; Specifications</text><text x="455.18" y="373.08" font-size="3.58" fill="#111" stroke="#111" stroke-width="0.28" font-weight="bold" text-anchor="middle">8</text><text x="471.56" y="373.08" font-size="3.58" fill="#111" stroke="#111" stroke-width="0.28" font-weight="bold">$</text><text x="499.52" y="373.08" font-size="3.58" fill="#111" stroke="#111" stroke-width="0.28" font-weight="bold" text-anchor="end">0.00</text><text x="515.90" y="373.08" font-size="3.58" fill="#111" stroke="#111" stroke-width="0.28" font-weight="bold" text-anchor="middle">8</text><text x="532.28" y="373.08" font-size="3.58" fill="#111" stroke="#111" stroke-width="0.28" font-weight="bold">$</text><text x="560.25" y="373.08" font-size="3.58" fill="#111" stroke="#111" stroke-width="0.28" font-weight="bold" text-anchor="end">4.00</text><text x="576.63" y="373.08" font-size="3.58" fill="#111" stroke="#111" stroke-width="0.28" font-weight="bold" text-anchor="middle">15</text><text x="593.01" y="373.08" font-size="3.58" fill="#111" stroke="#111" stroke-width="0.28" font-weight="bold">$</text><text x="620.97" y="373.08" font-size="3.58" fill="#111" stroke="#111" stroke-width="0.28" font-weight="bold" text-anchor="end">14.00</text><text x="637.35" y="373.08" font-size="3.58" fill="#111" stroke="#111" stroke-width="0.28" font-weight="bold" text-anchor="middle">13</text><text x="653.73" y="373.08" font-size="3.58" fill="#111" stroke="#111" stroke-width="0.28" font-weight="bold">$</text><text x="681.69" y="373.08" font-size="3.58" fill="#111" stroke="#111" stroke-width="0.28" font-weight="bold" text-anchor="end">11.00</text><text x="684.09" y="373.08" font-size="3.58" fill="#111" stroke="#111" stroke-width="0.28" font-weight="bold">$</text><text x="712.05" y="373.08" font-size="3.58" fill="#111" stroke="#111" stroke-width="0.28" font-weight="bold" text-anchor="end">100.00</text><text x="714.45" y="373.08" font-size="3.58" fill="#111" stroke="#111" stroke-width="0.28" font-weight="bold">$</text><text x="742.42" y="373.08" font-size="3.58" fill="#111" stroke="#111" stroke-width="0.28" font-weight="bold" text-anchor="end">88.00</text><text x="744.82" y="373.08" font-size="3.58" fill="#111" stroke="#111" stroke-width="0.28" font-weight="bold">$</text><text x="772.78" y="373.08" font-size="3.58" fill="#111" stroke="#111" stroke-width="0.28" font-weight="bold" text-anchor="end">280.00</text><text x="775.18" y="373.08" font-size="3.58" fill="#111" stroke="#111" stroke-width="0.28" font-weight="bold">$</text><text x="803.14" y="373.08" font-size="3.58" fill="#111" stroke="#111" stroke-width="0.28" font-weight="bold" text-anchor="end">281.00</text><text x="805.54" y="373.08" font-size="3.58" fill="#111" stroke="#111" stroke-width="0.28" font-weight="bold">$</text><text x="833.50" y="373.08" font-size="3.58" fill="#111" stroke="#111" stroke-width="0.28" font-weight="bold" text-anchor="end">29.00</text><line x1="369.90" y1="374.36" x2="834.70" y2="374.36" stroke="#bababa" stroke-width="1.1"/><text x="370.90" y="377.83" font-size="3.70" fill="#111" stroke="#111" stroke-width="0.28" font-weight="bold">Plan Review</text><text x="455.18" y="377.83" font-size="3.58" fill="#111" stroke="#111" stroke-width="0.28" font-weight="bold" text-anchor="middle">8</text><text x="471.56" y="377.83" font-size="3.58" fill="#111" stroke="#111" stroke-width="0.28" font-weight="bold">$</text><text x="499.52" y="377.83" font-size="3.58" fill="#111" stroke="#111" stroke-width="0.28" font-weight="bold" text-anchor="end">0.00</text><text x="515.90" y="377.83" font-size="3.58" fill="#111" stroke="#111" stroke-width="0.28" font-weight="bold" text-anchor="middle">8</text><text x="532.28" y="377.83" font-size="3.58" fill="#111" stroke="#111" stroke-width="0.28" font-weight="bold">$</text><text x="560.25" y="377.83" font-size="3.58" fill="#111" stroke="#111" stroke-width="0.28" font-weight="bold" text-anchor="end">4.00</text><text x="576.63" y="377.83" font-size="3.58" fill="#111" stroke="#111" stroke-width="0.28" font-weight="bold" text-anchor="middle">1</text><text x="593.01" y="377.83" font-size="3.58" fill="#111" stroke="#111" stroke-width="0.28" font-weight="bold">$</text><text x="620.97" y="377.83" font-size="3.58" fill="#111" stroke="#111" stroke-width="0.28" font-weight="bold" text-anchor="end">14.00</text><text x="637.35" y="377.83" font-size="3.58" fill="#111" stroke="#111" stroke-width="0.28" font-weight="bold" text-anchor="middle">1</text><text x="653.73" y="377.83" font-size="3.58" fill="#111" stroke="#111" stroke-width="0.28" font-weight="bold">$</text><text x="681.69" y="377.83" font-size="3.58" fill="#111" stroke="#111" stroke-width="0.28" font-weight="bold" text-anchor="end">11.00</text><text x="684.09" y="377.83" font-size="3.58" fill="#111" stroke="#111" stroke-width="0.28" font-weight="bold">$</text><text x="712.05" y="377.83" font-size="3.58" fill="#111" stroke="#111" stroke-width="0.28" font-weight="bold" text-anchor="end">100.00</text><text x="714.45" y="377.83" font-size="3.58" fill="#111" stroke="#111" stroke-width="0.28" font-weight="bold">$</text><text x="742.42" y="377.83" font-size="3.58" fill="#111" stroke="#111" stroke-width="0.28" font-weight="bold" text-anchor="end">88.00</text><text x="744.82" y="377.83" font-size="3.58" fill="#111" stroke="#111" stroke-width="0.28" font-weight="bold">$</text><text x="772.78" y="377.83" font-size="3.58" fill="#111" stroke="#111" stroke-width="0.28" font-weight="bold" text-anchor="end">280.00</text><text x="775.18" y="377.83" font-size="3.58" fill="#111" stroke="#111" stroke-width="0.28" font-weight="bold">$</text><text x="803.14" y="377.83" font-size="3.58" fill="#111" stroke="#111" stroke-width="0.28" font-weight="bold" text-anchor="end">281.00</text><text x="805.54" y="377.83" font-size="3.58" fill="#111" stroke="#111" stroke-width="0.28" font-weight="bold">$</text><text x="833.50" y="377.83" font-size="3.58" fill="#111" stroke="#111" stroke-width="0.28" font-weight="bold" text-anchor="end">29.00</text><line x1="369.90" y1="379.11" x2="834.70" y2="379.11" stroke="#bababa" stroke-width="1.1"/><text x="370.90" y="382.71" font-size="3.70" fill="#111" stroke="#111" stroke-width="0.28" font-weight="bold">Permits: Zoning, Building, Environmental,</text><text x="370.90" y="387.47" font-size="3.70" fill="#111" stroke="#111" stroke-width="0.28" font-weight="bold">Other</text><text x="455.18" y="384.97" font-size="3.58" fill="#111" stroke="#111" stroke-width="0.28" font-weight="bold" text-anchor="middle">8</text><text x="471.56" y="384.97" font-size="3.58" fill="#111" stroke="#111" stroke-width="0.28" font-weight="bold">$</text><text x="499.52" y="384.97" font-size="3.58" fill="#111" stroke="#111" stroke-width="0.28" font-weight="bold" text-anchor="end">0.00</text><text x="515.90" y="384.97" font-size="3.58" fill="#111" stroke="#111" stroke-width="0.28" font-weight="bold" text-anchor="middle">8</text><text x="532.28" y="384.97" font-size="3.58" fill="#111" stroke="#111" stroke-width="0.28" font-weight="bold">$</text><text x="560.25" y="384.97" font-size="3.58" fill="#111" stroke="#111" stroke-width="0.28" font-weight="bold" text-anchor="end">4.00</text><text x="576.63" y="384.97" font-size="3.58" fill="#111" stroke="#111" stroke-width="0.28" font-weight="bold" text-anchor="middle">15</text><text x="593.01" y="384.97" font-size="3.58" fill="#111" stroke="#111" stroke-width="0.28" font-weight="bold">$</text><text x="620.97" y="384.97" font-size="3.58" fill="#111" stroke="#111" stroke-width="0.28" font-weight="bold" text-anchor="end">14.00</text><text x="637.35" y="384.97" font-size="3.58" fill="#111" stroke="#111" stroke-width="0.28" font-weight="bold" text-anchor="middle">13</text><text x="653.73" y="384.97" font-size="3.58" fill="#111" stroke="#111" stroke-width="0.28" font-weight="bold">$</text><text x="681.69" y="384.97" font-size="3.58" fill="#111" stroke="#111" stroke-width="0.28" font-weight="bold" text-anchor="end">11.00</text><text x="684.09" y="384.97" font-size="3.58" fill="#111" stroke="#111" stroke-width="0.28" font-weight="bold">$</text><text x="712.05" y="384.97" font-size="3.58" fill="#111" stroke="#111" stroke-width="0.28" font-weight="bold" text-anchor="end">100.00</text><text x="714.45" y="384.97" font-size="3.58" fill="#111" stroke="#111" stroke-width="0.28" font-weight="bold">$</text><text x="742.42" y="384.97" font-size="3.58" fill="#111" stroke="#111" stroke-width="0.28" font-weight="bold" text-anchor="end">88.00</text><text x="744.82" y="384.97" font-size="3.58" fill="#111" stroke="#111" stroke-width="0.28" font-weight="bold">$</text><text x="772.78" y="384.97" font-size="3.58" fill="#111" stroke="#111" stroke-width="0.28" font-weight="bold" text-anchor="end">280.00</text><text x="775.18" y="384.97" font-size="3.58" fill="#111" stroke="#111" stroke-width="0.28" font-weight="bold">$</text><text x="803.14" y="384.97" font-size="3.58" fill="#111" stroke="#111" stroke-width="0.28" font-weight="bold" text-anchor="end">281.00</text><text x="805.54" y="384.97" font-size="3.58" fill="#111" stroke="#111" stroke-width="0.28" font-weight="bold">$</text><text x="833.50" y="384.97" font-size="3.58" fill="#111" stroke="#111" stroke-width="0.28" font-weight="bold" text-anchor="end">29.00</text><line x1="369.90" y1="388.62" x2="834.70" y2="388.62" stroke="#bababa" stroke-width="1.1"/><text x="370.90" y="392.10" font-size="3.70" fill="#111" stroke="#111" stroke-width="0.28" font-weight="bold">Survey</text><text x="455.18" y="392.10" font-size="3.58" fill="#111" stroke="#111" stroke-width="0.28" font-weight="bold" text-anchor="middle">8</text><text x="471.56" y="392.10" font-size="3.58" fill="#111" stroke="#111" stroke-width="0.28" font-weight="bold">$</text><text x="499.52" y="392.10" font-size="3.58" fill="#111" stroke="#111" stroke-width="0.28" font-weight="bold" text-anchor="end">0.00</text><text x="515.90" y="392.10" font-size="3.58" fill="#111" stroke="#111" stroke-width="0.28" font-weight="bold" text-anchor="middle">8</text><text x="532.28" y="392.10" font-size="3.58" fill="#111" stroke="#111" stroke-width="0.28" font-weight="bold">$</text><text x="560.25" y="392.10" font-size="3.58" fill="#111" stroke="#111" stroke-width="0.28" font-weight="bold" text-anchor="end">4.00</text><text x="576.63" y="392.10" font-size="3.58" fill="#111" stroke="#111" stroke-width="0.28" font-weight="bold" text-anchor="middle">1</text><text x="593.01" y="392.10" font-size="3.58" fill="#111" stroke="#111" stroke-width="0.28" font-weight="bold">$</text><text x="620.97" y="392.10" font-size="3.58" fill="#111" stroke="#111" stroke-width="0.28" font-weight="bold" text-anchor="end">14.00</text><text x="637.35" y="392.10" font-size="3.58" fill="#111" stroke="#111" stroke-width="0.28" font-weight="bold" text-anchor="middle">1</text><text x="653.73" y="392.10" font-size="3.58" fill="#111" stroke="#111" stroke-width="0.28" font-weight="bold">$</text><text x="681.69" y="392.10" font-size="3.58" fill="#111" stroke="#111" stroke-width="0.28" font-weight="bold" text-anchor="end">11.00</text><text x="684.09" y="392.10" font-size="3.58" fill="#111" stroke="#111" stroke-width="0.28" font-weight="bold">$</text><text x="712.05" y="392.10" font-size="3.58" fill="#111" stroke="#111" stroke-width="0.28" font-weight="bold" text-anchor="end">100.00</text><text x="714.45" y="392.10" font-size="3.58" fill="#111" stroke="#111" stroke-width="0.28" font-weight="bold">$</text><text x="742.42" y="392.10" font-size="3.58" fill="#111" stroke="#111" stroke-width="0.28" font-weight="bold" text-anchor="end">88.00</text><text x="744.82" y="392.10" font-size="3.58" fill="#111" stroke="#111" stroke-width="0.28" font-weight="bold">$</text><text x="772.78" y="392.10" font-size="3.58" fill="#111" stroke="#111" stroke-width="0.28" font-weight="bold" text-anchor="end">280.00</text><text x="775.18" y="392.10" font-size="3.58" fill="#111" stroke="#111" stroke-width="0.28" font-weight="bold">$</text><text x="803.14" y="392.10" font-size="3.58" fill="#111" stroke="#111" stroke-width="0.28" font-weight="bold" text-anchor="end">281.00</text><text x="805.54" y="392.10" font-size="3.58" fill="#111" stroke="#111" stroke-width="0.28" font-weight="bold">$</text><text x="833.50" y="392.10" font-size="3.58" fill="#111" stroke="#111" stroke-width="0.28" font-weight="bold" text-anchor="end">29.00</text><line x1="369.90" y1="393.38" x2="834.70" y2="393.38" stroke="#bababa" stroke-width="1.1"/><text x="370.90" y="396.86" font-size="3.70" fill="#111" stroke="#111" stroke-width="0.28" font-weight="bold">Impact Fee</text><text x="455.18" y="396.86" font-size="3.58" fill="#111" stroke="#111" stroke-width="0.28" font-weight="bold" text-anchor="middle">8</text><text x="471.56" y="396.86" font-size="3.58" fill="#111" stroke="#111" stroke-width="0.28" font-weight="bold">$</text><text x="499.52" y="396.86" font-size="3.58" fill="#111" stroke="#111" stroke-width="0.28" font-weight="bold" text-anchor="end">0.00</text><text x="515.90" y="396.86" font-size="3.58" fill="#111" stroke="#111" stroke-width="0.28" font-weight="bold" text-anchor="middle">8</text><text x="532.28" y="396.86" font-size="3.58" fill="#111" stroke="#111" stroke-width="0.28" font-weight="bold">$</text><text x="560.25" y="396.86" font-size="3.58" fill="#111" stroke="#111" stroke-width="0.28" font-weight="bold" text-anchor="end">4.00</text><text x="576.63" y="396.86" font-size="3.58" fill="#111" stroke="#111" stroke-width="0.28" font-weight="bold" text-anchor="middle">15</text><text x="593.01" y="396.86" font-size="3.58" fill="#111" stroke="#111" stroke-width="0.28" font-weight="bold">$</text><text x="620.97" y="396.86" font-size="3.58" fill="#111" stroke="#111" stroke-width="0.28" font-weight="bold" text-anchor="end">14.00</text><text x="637.35" y="396.86" font-size="3.58" fill="#111" stroke="#111" stroke-width="0.28" font-weight="bold" text-anchor="middle">13</text><text x="653.73" y="396.86" font-size="3.58" fill="#111" stroke="#111" stroke-width="0.28" font-weight="bold">$</text><text x="681.69" y="396.86" font-size="3.58" fill="#111" stroke="#111" stroke-width="0.28" font-weight="bold" text-anchor="end">11.00</text><text x="684.09" y="396.86" font-size="3.58" fill="#111" stroke="#111" stroke-width="0.28" font-weight="bold">$</text><text x="712.05" y="396.86" font-size="3.58" fill="#111" stroke="#111" stroke-width="0.28" font-weight="bold" text-anchor="end">100.00</text><text x="714.45" y="396.86" font-size="3.58" fill="#111" stroke="#111" stroke-width="0.28" font-weight="bold">$</text><text x="742.42" y="396.86" font-size="3.58" fill="#111" stroke="#111" stroke-width="0.28" font-weight="bold" text-anchor="end">88.00</text><text x="744.82" y="396.86" font-size="3.58" fill="#111" stroke="#111" stroke-width="0.28" font-weight="bold">$</text><text x="772.78" y="396.86" font-size="3.58" fill="#111" stroke="#111" stroke-width="0.28" font-weight="bold" text-anchor="end">280.00</text><text x="775.18" y="396.86" font-size="3.58" fill="#111" stroke="#111" stroke-width="0.28" font-weight="bold">$</text><text x="803.14" y="396.86" font-size="3.58" fill="#111" stroke="#111" stroke-width="0.28" font-weight="bold" text-anchor="end">281.00</text><text x="805.54" y="396.86" font-size="3.58" fill="#111" stroke="#111" stroke-width="0.28" font-weight="bold">$</text><text x="833.50" y="396.86" font-size="3.58" fill="#111" stroke="#111" stroke-width="0.28" font-weight="bold" text-anchor="end">29.00</text><line x1="369.90" y1="398.13" x2="834.70" y2="398.13" stroke="#bababa" stroke-width="1.1"/><text x="370.90" y="401.61" font-size="3.70" fill="#111" stroke="#111" stroke-width="0.28" font-weight="bold">Administrative Costs</text><text x="455.18" y="401.61" font-size="3.58" fill="#111" stroke="#111" stroke-width="0.28" font-weight="bold" text-anchor="middle">8</text><text x="471.56" y="401.61" font-size="3.58" fill="#111" stroke="#111" stroke-width="0.28" font-weight="bold">$</text><text x="499.52" y="401.61" font-size="3.58" fill="#111" stroke="#111" stroke-width="0.28" font-weight="bold" text-anchor="end">0.00</text><text x="515.90" y="401.61" font-size="3.58" fill="#111" stroke="#111" stroke-width="0.28" font-weight="bold" text-anchor="middle">8</text><text x="532.28" y="401.61" font-size="3.58" fill="#111" stroke="#111" stroke-width="0.28" font-weight="bold">$</text><text x="560.25" y="401.61" font-size="3.58" fill="#111" stroke="#111" stroke-width="0.28" font-weight="bold" text-anchor="end">4.00</text><text x="576.63" y="401.61" font-size="3.58" fill="#111" stroke="#111" stroke-width="0.28" font-weight="bold" text-anchor="middle">1</text><text x="593.01" y="401.61" font-size="3.58" fill="#111" stroke="#111" stroke-width="0.28" font-weight="bold">$</text><text x="620.97" y="401.61" font-size="3.58" fill="#111" stroke="#111" stroke-width="0.28" font-weight="bold" text-anchor="end">14.00</text><text x="637.35" y="401.61" font-size="3.58" fill="#111" stroke="#111" stroke-width="0.28" font-weight="bold" text-anchor="middle">1</text><text x="653.73" y="401.61" font-size="3.58" fill="#111" stroke="#111" stroke-width="0.28" font-weight="bold">$</text><text x="681.69" y="401.61" font-size="3.58" fill="#111" stroke="#111" stroke-width="0.28" font-weight="bold" text-anchor="end">11.00</text><text x="684.09" y="401.61" font-size="3.58" fill="#111" stroke="#111" stroke-width="0.28" font-weight="bold">$</text><text x="712.05" y="401.61" font-size="3.58" fill="#111" stroke="#111" stroke-width="0.28" font-weight="bold" text-anchor="end">100.00</text><text x="714.45" y="401.61" font-size="3.58" fill="#111" stroke="#111" stroke-width="0.28" font-weight="bold">$</text><text x="742.42" y="401.61" font-size="3.58" fill="#111" stroke="#111" stroke-width="0.28" font-weight="bold" text-anchor="end">88.00</text><text x="744.82" y="401.61" font-size="3.58" fill="#111" stroke="#111" stroke-width="0.28" font-weight="bold">$</text><text x="772.78" y="401.61" font-size="3.58" fill="#111" stroke="#111" stroke-width="0.28" font-weight="bold" text-anchor="end">280.00</text><text x="775.18" y="401.61" font-size="3.58" fill="#111" stroke="#111" stroke-width="0.28" font-weight="bold">$</text><text x="803.14" y="401.61" font-size="3.58" fill="#111" stroke="#111" stroke-width="0.28" font-weight="bold" text-anchor="end">281.00</text><text x="805.54" y="401.61" font-size="3.58" fill="#111" stroke="#111" stroke-width="0.28" font-weight="bold">$</text><text x="833.50" y="401.61" font-size="3.58" fill="#111" stroke="#111" stroke-width="0.28" font-weight="bold" text-anchor="end">29.00</text><line x1="369.90" y1="402.89" x2="834.70" y2="402.89" stroke="#bababa" stroke-width="1.1"/><text x="370.90" y="406.37" font-size="3.70" fill="#111" stroke="#111" stroke-width="0.28" font-weight="bold">Financing Costs</text><text x="455.18" y="406.37" font-size="3.58" fill="#111" stroke="#111" stroke-width="0.28" font-weight="bold" text-anchor="middle">8</text><text x="471.56" y="406.37" font-size="3.58" fill="#111" stroke="#111" stroke-width="0.28" font-weight="bold">$</text><text x="499.52" y="406.37" font-size="3.58" fill="#111" stroke="#111" stroke-width="0.28" font-weight="bold" text-anchor="end">0.00</text><text x="515.90" y="406.37" font-size="3.58" fill="#111" stroke="#111" stroke-width="0.28" font-weight="bold" text-anchor="middle">8</text><text x="532.28" y="406.37" font-size="3.58" fill="#111" stroke="#111" stroke-width="0.28" font-weight="bold">$</text><text x="560.25" y="406.37" font-size="3.58" fill="#111" stroke="#111" stroke-width="0.28" font-weight="bold" text-anchor="end">4.00</text><text x="576.63" y="406.37" font-size="3.58" fill="#111" stroke="#111" stroke-width="0.28" font-weight="bold" text-anchor="middle">15</text><text x="593.01" y="406.37" font-size="3.58" fill="#111" stroke="#111" stroke-width="0.28" font-weight="bold">$</text><text x="620.97" y="406.37" font-size="3.58" fill="#111" stroke="#111" stroke-width="0.28" font-weight="bold" text-anchor="end">14.00</text><text x="637.35" y="406.37" font-size="3.58" fill="#111" stroke="#111" stroke-width="0.28" font-weight="bold" text-anchor="middle">13</text><text x="653.73" y="406.37" font-size="3.58" fill="#111" stroke="#111" stroke-width="0.28" font-weight="bold">$</text><text x="681.69" y="406.37" font-size="3.58" fill="#111" stroke="#111" stroke-width="0.28" font-weight="bold" text-anchor="end">11.00</text><text x="684.09" y="406.37" font-size="3.58" fill="#111" stroke="#111" stroke-width="0.28" font-weight="bold">$</text><text x="712.05" y="406.37" font-size="3.58" fill="#111" stroke="#111" stroke-width="0.28" font-weight="bold" text-anchor="end">100.00</text><text x="714.45" y="406.37" font-size="3.58" fill="#111" stroke="#111" stroke-width="0.28" font-weight="bold">$</text><text x="742.42" y="406.37" font-size="3.58" fill="#111" stroke="#111" stroke-width="0.28" font-weight="bold" text-anchor="end">88.00</text><text x="744.82" y="406.37" font-size="3.58" fill="#111" stroke="#111" stroke-width="0.28" font-weight="bold">$</text><text x="772.78" y="406.37" font-size="3.58" fill="#111" stroke="#111" stroke-width="0.28" font-weight="bold" text-anchor="end">280.00</text><text x="775.18" y="406.37" font-size="3.58" fill="#111" stroke="#111" stroke-width="0.28" font-weight="bold">$</text><text x="803.14" y="406.37" font-size="3.58" fill="#111" stroke="#111" stroke-width="0.28" font-weight="bold" text-anchor="end">281.00</text><text x="805.54" y="406.37" font-size="3.58" fill="#111" stroke="#111" stroke-width="0.28" font-weight="bold">$</text><text x="833.50" y="406.37" font-size="3.58" fill="#111" stroke="#111" stroke-width="0.28" font-weight="bold" text-anchor="end">29.00</text><line x1="369.90" y1="407.64" x2="834.70" y2="407.64" stroke="#bababa" stroke-width="1.1"/><text x="370.90" y="411.12" font-size="3.70" fill="#111" stroke="#111" stroke-width="0.28" font-weight="bold">Legal Fees</text><text x="455.18" y="411.12" font-size="3.58" fill="#111" stroke="#111" stroke-width="0.28" font-weight="bold" text-anchor="middle">8</text><text x="471.56" y="411.12" font-size="3.58" fill="#111" stroke="#111" stroke-width="0.28" font-weight="bold">$</text><text x="499.52" y="411.12" font-size="3.58" fill="#111" stroke="#111" stroke-width="0.28" font-weight="bold" text-anchor="end">0.00</text><text x="515.90" y="411.12" font-size="3.58" fill="#111" stroke="#111" stroke-width="0.28" font-weight="bold" text-anchor="middle">8</text><text x="532.28" y="411.12" font-size="3.58" fill="#111" stroke="#111" stroke-width="0.28" font-weight="bold">$</text><text x="560.25" y="411.12" font-size="3.58" fill="#111" stroke="#111" stroke-width="0.28" font-weight="bold" text-anchor="end">4.00</text><text x="576.63" y="411.12" font-size="3.58" fill="#111" stroke="#111" stroke-width="0.28" font-weight="bold" text-anchor="middle">1</text><text x="593.01" y="411.12" font-size="3.58" fill="#111" stroke="#111" stroke-width="0.28" font-weight="bold">$</text><text x="620.97" y="411.12" font-size="3.58" fill="#111" stroke="#111" stroke-width="0.28" font-weight="bold" text-anchor="end">14.00</text><text x="637.35" y="411.12" font-size="3.58" fill="#111" stroke="#111" stroke-width="0.28" font-weight="bold" text-anchor="middle">1</text><text x="653.73" y="411.12" font-size="3.58" fill="#111" stroke="#111" stroke-width="0.28" font-weight="bold">$</text><text x="681.69" y="411.12" font-size="3.58" fill="#111" stroke="#111" stroke-width="0.28" font-weight="bold" text-anchor="end">11.00</text><text x="684.09" y="411.12" font-size="3.58" fill="#111" stroke="#111" stroke-width="0.28" font-weight="bold">$</text><text x="712.05" y="411.12" font-size="3.58" fill="#111" stroke="#111" stroke-width="0.28" font-weight="bold" text-anchor="end">100.00</text><text x="714.45" y="411.12" font-size="3.58" fill="#111" stroke="#111" stroke-width="0.28" font-weight="bold">$</text><text x="742.42" y="411.12" font-size="3.58" fill="#111" stroke="#111" stroke-width="0.28" font-weight="bold" text-anchor="end">88.00</text><text x="744.82" y="411.12" font-size="3.58" fill="#111" stroke="#111" stroke-width="0.28" font-weight="bold">$</text><text x="772.78" y="411.12" font-size="3.58" fill="#111" stroke="#111" stroke-width="0.28" font-weight="bold" text-anchor="end">280.00</text><text x="775.18" y="411.12" font-size="3.58" fill="#111" stroke="#111" stroke-width="0.28" font-weight="bold">$</text><text x="803.14" y="411.12" font-size="3.58" fill="#111" stroke="#111" stroke-width="0.28" font-weight="bold" text-anchor="end">281.00</text><text x="805.54" y="411.12" font-size="3.58" fill="#111" stroke="#111" stroke-width="0.28" font-weight="bold">$</text><text x="833.50" y="411.12" font-size="3.58" fill="#111" stroke="#111" stroke-width="0.28" font-weight="bold" text-anchor="end">29.00</text><line x1="369.90" y1="412.40" x2="834.70" y2="412.40" stroke="#bababa" stroke-width="1.1"/><rect x="369.90" y="412.40" width="464.80" height="5.70" fill="#ffffff"/><line x1="369.90" y1="418.10" x2="834.70" y2="418.10" stroke="#a8a8a8" stroke-width="0.5"/><line x1="440.00" y1="369.60" x2="440.00" y2="418.10" stroke="#a8a8a8" stroke-width="0.5"/><line x1="470.36" y1="369.60" x2="470.36" y2="418.10" stroke="#a8a8a8" stroke-width="0.5"/><line x1="500.72" y1="369.60" x2="500.72" y2="418.10" stroke="#a8a8a8" stroke-width="0.5"/><line x1="531.08" y1="369.60" x2="531.08" y2="418.10" stroke="#a8a8a8" stroke-width="0.5"/><line x1="561.45" y1="369.60" x2="561.45" y2="418.10" stroke="#a8a8a8" stroke-width="0.5"/><line x1="591.81" y1="369.60" x2="591.81" y2="418.10" stroke="#a8a8a8" stroke-width="0.5"/><line x1="622.17" y1="369.60" x2="622.17" y2="418.10" stroke="#a8a8a8" stroke-width="0.5"/><line x1="652.53" y1="369.60" x2="652.53" y2="418.10" stroke="#a8a8a8" stroke-width="0.5"/><line x1="682.89" y1="369.60" x2="682.89" y2="418.10" stroke="#a8a8a8" stroke-width="0.5"/><line x1="713.25" y1="369.60" x2="713.25" y2="418.10" stroke="#a8a8a8" stroke-width="0.5"/><line x1="743.62" y1="369.60" x2="743.62" y2="418.10" stroke="#888" stroke-width="0.5"/><line x1="773.98" y1="369.60" x2="773.98" y2="418.10" stroke="#a8a8a8" stroke-width="0.5"/><line x1="804.34" y1="369.60" x2="804.34" y2="418.10" stroke="#a8a8a8" stroke-width="0.5"/><line x1="834.70" y1="369.60" x2="834.70" y2="418.10" stroke="#a8a8a8" stroke-width="0.5"/><line x1="369.90" y1="365.10" x2="369.90" y2="418.10" stroke="#888" stroke-width="0.5"/><line x1="834.70" y1="365.10" x2="834.70" y2="418.10" stroke="#888" stroke-width="0.5"/><rect x="369.90" y="418.10" width="70.10" height="4.50" fill="#585858"/><text x="371.10" y="421.70" font-size="3.70" fill="#e6e6e6" stroke="#e6e6e6" stroke-width="0.05" font-weight="bold">SITE PREP</text><rect x="440.00" y="418.10" width="303.62" height="4.50" fill="#efe86a"/><rect x="743.62" y="418.10" width="91.08" height="4.50" fill="#585858"/><text x="744.82" y="421.70" font-size="3.58" fill="#ece36c" stroke="#ece36c" stroke-width="0.05" font-weight="bold">$</text><text x="772.78" y="421.70" font-size="3.58" fill="#ece36c" stroke="#ece36c" stroke-width="0.05" font-weight="bold" text-anchor="end">4,135.00</text><text x="775.18" y="421.70" font-size="3.58" fill="#ece36c" stroke="#ece36c" stroke-width="0.05" font-weight="bold">$</text><text x="803.14" y="421.70" font-size="3.58" fill="#ece36c" stroke="#ece36c" stroke-width="0.05" font-weight="bold" text-anchor="end">3,865.00</text><text x="805.54" y="421.70" font-size="3.58" fill="#ece36c" stroke="#ece36c" stroke-width="0.05" font-weight="bold">$</text><text x="833.50" y="421.70" font-size="3.58" fill="#ece36c" stroke="#ece36c" stroke-width="0.05" font-weight="bold" text-anchor="end">545.00</text><rect x="369.90" y="422.60" width="464.80" height="29.40" fill="#ffffff"/><text x="370.90" y="426.15" font-size="3.70" fill="#111" stroke="#111" stroke-width="0.28" font-weight="bold">Demolition (Remodel)</text><text x="455.18" y="426.15" font-size="3.58" fill="#111" stroke="#111" stroke-width="0.28" font-weight="bold" text-anchor="middle">48</text><text x="471.56" y="426.15" font-size="3.58" fill="#111" stroke="#111" stroke-width="0.28" font-weight="bold">$</text><text x="499.52" y="426.15" font-size="3.58" fill="#111" stroke="#111" stroke-width="0.28" font-weight="bold" text-anchor="end">0.00</text><text x="515.90" y="426.15" font-size="3.58" fill="#111" stroke="#111" stroke-width="0.28" font-weight="bold" text-anchor="middle">48</text><text x="532.28" y="426.15" font-size="3.58" fill="#111" stroke="#111" stroke-width="0.28" font-weight="bold">$</text><text x="560.25" y="426.15" font-size="3.58" fill="#111" stroke="#111" stroke-width="0.28" font-weight="bold" text-anchor="end">4.00</text><text x="576.63" y="426.15" font-size="3.58" fill="#111" stroke="#111" stroke-width="0.28" font-weight="bold" text-anchor="middle">15</text><text x="593.01" y="426.15" font-size="3.58" fill="#111" stroke="#111" stroke-width="0.28" font-weight="bold">$</text><text x="620.97" y="426.15" font-size="3.58" fill="#111" stroke="#111" stroke-width="0.28" font-weight="bold" text-anchor="end">14.00</text><text x="637.35" y="426.15" font-size="3.58" fill="#111" stroke="#111" stroke-width="0.28" font-weight="bold" text-anchor="middle">13</text><text x="653.73" y="426.15" font-size="3.58" fill="#111" stroke="#111" stroke-width="0.28" font-weight="bold">$</text><text x="681.69" y="426.15" font-size="3.58" fill="#111" stroke="#111" stroke-width="0.28" font-weight="bold" text-anchor="end">11.00</text><text x="684.09" y="426.15" font-size="3.58" fill="#111" stroke="#111" stroke-width="0.28" font-weight="bold">$</text><text x="712.05" y="426.15" font-size="3.58" fill="#111" stroke="#111" stroke-width="0.28" font-weight="bold" text-anchor="end">100.00</text><text x="714.45" y="426.15" font-size="3.58" fill="#111" stroke="#111" stroke-width="0.28" font-weight="bold">$</text><text x="742.42" y="426.15" font-size="3.58" fill="#111" stroke="#111" stroke-width="0.28" font-weight="bold" text-anchor="end">88.00</text><text x="744.82" y="426.15" font-size="3.58" fill="#111" stroke="#111" stroke-width="0.28" font-weight="bold">$</text><text x="772.78" y="426.15" font-size="3.58" fill="#111" stroke="#111" stroke-width="0.28" font-weight="bold" text-anchor="end">280.00</text><text x="775.18" y="426.15" font-size="3.58" fill="#111" stroke="#111" stroke-width="0.28" font-weight="bold">$</text><text x="803.14" y="426.15" font-size="3.58" fill="#111" stroke="#111" stroke-width="0.28" font-weight="bold" text-anchor="end">281.00</text><text x="805.54" y="426.15" font-size="3.58" fill="#111" stroke="#111" stroke-width="0.28" font-weight="bold">$</text><text x="833.50" y="426.15" font-size="3.58" fill="#111" stroke="#111" stroke-width="0.28" font-weight="bold" text-anchor="end">29.00</text><line x1="369.90" y1="427.50" x2="834.70" y2="427.50" stroke="#bababa" stroke-width="1.1"/><text x="370.90" y="431.05" font-size="3.70" fill="#111" stroke="#111" stroke-width="0.28" font-weight="bold">Jacking &amp; Shoring (Remodel)</text><text x="455.18" y="431.05" font-size="3.58" fill="#111" stroke="#111" stroke-width="0.28" font-weight="bold" text-anchor="middle">24</text><text x="471.56" y="431.05" font-size="3.58" fill="#111" stroke="#111" stroke-width="0.28" font-weight="bold">$</text><text x="499.52" y="431.05" font-size="3.58" fill="#111" stroke="#111" stroke-width="0.28" font-weight="bold" text-anchor="end">0.00</text><text x="515.90" y="431.05" font-size="3.58" fill="#111" stroke="#111" stroke-width="0.28" font-weight="bold" text-anchor="middle">24</text><text x="532.28" y="431.05" font-size="3.58" fill="#111" stroke="#111" stroke-width="0.28" font-weight="bold">$</text><text x="560.25" y="431.05" font-size="3.58" fill="#111" stroke="#111" stroke-width="0.28" font-weight="bold" text-anchor="end">4.00</text><text x="576.63" y="431.05" font-size="3.58" fill="#111" stroke="#111" stroke-width="0.28" font-weight="bold" text-anchor="middle">1</text><text x="593.01" y="431.05" font-size="3.58" fill="#111" stroke="#111" stroke-width="0.28" font-weight="bold">$</text><text x="620.97" y="431.05" font-size="3.58" fill="#111" stroke="#111" stroke-width="0.28" font-weight="bold" text-anchor="end">14.00</text><text x="637.35" y="431.05" font-size="3.58" fill="#111" stroke="#111" stroke-width="0.28" font-weight="bold" text-anchor="middle">1</text><text x="653.73" y="431.05" font-size="3.58" fill="#111" stroke="#111" stroke-width="0.28" font-weight="bold">$</text><text x="681.69" y="431.05" font-size="3.58" fill="#111" stroke="#111" stroke-width="0.28" font-weight="bold" text-anchor="end">11.00</text><text x="684.09" y="431.05" font-size="3.58" fill="#111" stroke="#111" stroke-width="0.28" font-weight="bold">$</text><text x="712.05" y="431.05" font-size="3.58" fill="#111" stroke="#111" stroke-width="0.28" font-weight="bold" text-anchor="end">100.00</text><text x="714.45" y="431.05" font-size="3.58" fill="#111" stroke="#111" stroke-width="0.28" font-weight="bold">$</text><text x="742.42" y="431.05" font-size="3.58" fill="#111" stroke="#111" stroke-width="0.28" font-weight="bold" text-anchor="end">88.00</text><text x="744.82" y="431.05" font-size="3.58" fill="#111" stroke="#111" stroke-width="0.28" font-weight="bold">$</text><text x="772.78" y="431.05" font-size="3.58" fill="#111" stroke="#111" stroke-width="0.28" font-weight="bold" text-anchor="end">280.00</text><text x="775.18" y="431.05" font-size="3.58" fill="#111" stroke="#111" stroke-width="0.28" font-weight="bold">$</text><text x="803.14" y="431.05" font-size="3.58" fill="#111" stroke="#111" stroke-width="0.28" font-weight="bold" text-anchor="end">281.00</text><text x="805.54" y="431.05" font-size="3.58" fill="#111" stroke="#111" stroke-width="0.28" font-weight="bold">$</text><text x="833.50" y="431.05" font-size="3.58" fill="#111" stroke="#111" stroke-width="0.28" font-weight="bold" text-anchor="end">29.00</text><line x1="369.90" y1="432.40" x2="834.70" y2="432.40" stroke="#bababa" stroke-width="1.1"/><text x="370.90" y="435.95" font-size="3.70" fill="#111" stroke="#111" stroke-width="0.28" font-weight="bold">Dust Control, Surface Protection</text><text x="455.18" y="435.95" font-size="3.58" fill="#111" stroke="#111" stroke-width="0.28" font-weight="bold" text-anchor="middle">8</text><text x="471.56" y="435.95" font-size="3.58" fill="#111" stroke="#111" stroke-width="0.28" font-weight="bold">$</text><text x="499.52" y="435.95" font-size="3.58" fill="#111" stroke="#111" stroke-width="0.28" font-weight="bold" text-anchor="end">0.00</text><text x="515.90" y="435.95" font-size="3.58" fill="#111" stroke="#111" stroke-width="0.28" font-weight="bold" text-anchor="middle">8</text><text x="532.28" y="435.95" font-size="3.58" fill="#111" stroke="#111" stroke-width="0.28" font-weight="bold">$</text><text x="560.25" y="435.95" font-size="3.58" fill="#111" stroke="#111" stroke-width="0.28" font-weight="bold" text-anchor="end">4.00</text><text x="576.63" y="435.95" font-size="3.58" fill="#111" stroke="#111" stroke-width="0.28" font-weight="bold" text-anchor="middle">15</text><text x="593.01" y="435.95" font-size="3.58" fill="#111" stroke="#111" stroke-width="0.28" font-weight="bold">$</text><text x="620.97" y="435.95" font-size="3.58" fill="#111" stroke="#111" stroke-width="0.28" font-weight="bold" text-anchor="end">14.00</text><text x="637.35" y="435.95" font-size="3.58" fill="#111" stroke="#111" stroke-width="0.28" font-weight="bold" text-anchor="middle">13</text><text x="653.73" y="435.95" font-size="3.58" fill="#111" stroke="#111" stroke-width="0.28" font-weight="bold">$</text><text x="681.69" y="435.95" font-size="3.58" fill="#111" stroke="#111" stroke-width="0.28" font-weight="bold" text-anchor="end">11.00</text><text x="684.09" y="435.95" font-size="3.58" fill="#111" stroke="#111" stroke-width="0.28" font-weight="bold">$</text><text x="712.05" y="435.95" font-size="3.58" fill="#111" stroke="#111" stroke-width="0.28" font-weight="bold" text-anchor="end">100.00</text><text x="714.45" y="435.95" font-size="3.58" fill="#111" stroke="#111" stroke-width="0.28" font-weight="bold">$</text><text x="742.42" y="435.95" font-size="3.58" fill="#111" stroke="#111" stroke-width="0.28" font-weight="bold" text-anchor="end">88.00</text><text x="744.82" y="435.95" font-size="3.58" fill="#111" stroke="#111" stroke-width="0.28" font-weight="bold">$</text><text x="772.78" y="435.95" font-size="3.58" fill="#111" stroke="#111" stroke-width="0.28" font-weight="bold" text-anchor="end">280.00</text><text x="775.18" y="435.95" font-size="3.58" fill="#111" stroke="#111" stroke-width="0.28" font-weight="bold">$</text><text x="803.14" y="435.95" font-size="3.58" fill="#111" stroke="#111" stroke-width="0.28" font-weight="bold" text-anchor="end">281.00</text><text x="805.54" y="435.95" font-size="3.58" fill="#111" stroke="#111" stroke-width="0.28" font-weight="bold">$</text><text x="833.50" y="435.95" font-size="3.58" fill="#111" stroke="#111" stroke-width="0.28" font-weight="bold" text-anchor="end">29.00</text><line x1="369.90" y1="437.30" x2="834.70" y2="437.30" stroke="#bababa" stroke-width="1.1"/><text x="370.90" y="440.85" font-size="3.70" fill="#111" stroke="#111" stroke-width="0.28" font-weight="bold">Site Prep 1</text><text x="455.18" y="440.85" font-size="3.58" fill="#111" stroke="#111" stroke-width="0.28" font-weight="bold" text-anchor="middle">8</text><text x="471.56" y="440.85" font-size="3.58" fill="#111" stroke="#111" stroke-width="0.28" font-weight="bold">$</text><text x="499.52" y="440.85" font-size="3.58" fill="#111" stroke="#111" stroke-width="0.28" font-weight="bold" text-anchor="end">0.00</text><text x="515.90" y="440.85" font-size="3.58" fill="#111" stroke="#111" stroke-width="0.28" font-weight="bold" text-anchor="middle">8</text><text x="532.28" y="440.85" font-size="3.58" fill="#111" stroke="#111" stroke-width="0.28" font-weight="bold">$</text><text x="560.25" y="440.85" font-size="3.58" fill="#111" stroke="#111" stroke-width="0.28" font-weight="bold" text-anchor="end">4.00</text><text x="576.63" y="440.85" font-size="3.58" fill="#111" stroke="#111" stroke-width="0.28" font-weight="bold" text-anchor="middle">1</text><text x="593.01" y="440.85" font-size="3.58" fill="#111" stroke="#111" stroke-width="0.28" font-weight="bold">$</text><text x="620.97" y="440.85" font-size="3.58" fill="#111" stroke="#111" stroke-width="0.28" font-weight="bold" text-anchor="end">14.00</text><text x="637.35" y="440.85" font-size="3.58" fill="#111" stroke="#111" stroke-width="0.28" font-weight="bold" text-anchor="middle">1</text><text x="653.73" y="440.85" font-size="3.58" fill="#111" stroke="#111" stroke-width="0.28" font-weight="bold">$</text><text x="681.69" y="440.85" font-size="3.58" fill="#111" stroke="#111" stroke-width="0.28" font-weight="bold" text-anchor="end">11.00</text><text x="684.09" y="440.85" font-size="3.58" fill="#111" stroke="#111" stroke-width="0.28" font-weight="bold">$</text><text x="712.05" y="440.85" font-size="3.58" fill="#111" stroke="#111" stroke-width="0.28" font-weight="bold" text-anchor="end">100.00</text><text x="714.45" y="440.85" font-size="3.58" fill="#111" stroke="#111" stroke-width="0.28" font-weight="bold">$</text><text x="742.42" y="440.85" font-size="3.58" fill="#111" stroke="#111" stroke-width="0.28" font-weight="bold" text-anchor="end">88.00</text><text x="744.82" y="440.85" font-size="3.58" fill="#111" stroke="#111" stroke-width="0.28" font-weight="bold">$</text><text x="772.78" y="440.85" font-size="3.58" fill="#111" stroke="#111" stroke-width="0.28" font-weight="bold" text-anchor="end">280.00</text><text x="775.18" y="440.85" font-size="3.58" fill="#111" stroke="#111" stroke-width="0.28" font-weight="bold">$</text><text x="803.14" y="440.85" font-size="3.58" fill="#111" stroke="#111" stroke-width="0.28" font-weight="bold" text-anchor="end">281.00</text><text x="805.54" y="440.85" font-size="3.58" fill="#111" stroke="#111" stroke-width="0.28" font-weight="bold">$</text><text x="833.50" y="440.85" font-size="3.58" fill="#111" stroke="#111" stroke-width="0.28" font-weight="bold" text-anchor="end">29.00</text><line x1="369.90" y1="442.20" x2="834.70" y2="442.20" stroke="#bababa" stroke-width="1.1"/><text x="370.90" y="445.75" font-size="3.70" fill="#111" stroke="#111" stroke-width="0.28" font-weight="bold">Site Prep 2</text><text x="455.18" y="445.75" font-size="3.58" fill="#111" stroke="#111" stroke-width="0.28" font-weight="bold" text-anchor="middle">8</text><text x="471.56" y="445.75" font-size="3.58" fill="#111" stroke="#111" stroke-width="0.28" font-weight="bold">$</text><text x="499.52" y="445.75" font-size="3.58" fill="#111" stroke="#111" stroke-width="0.28" font-weight="bold" text-anchor="end">0.00</text><text x="515.90" y="445.75" font-size="3.58" fill="#111" stroke="#111" stroke-width="0.28" font-weight="bold" text-anchor="middle">8</text><text x="532.28" y="445.75" font-size="3.58" fill="#111" stroke="#111" stroke-width="0.28" font-weight="bold">$</text><text x="560.25" y="445.75" font-size="3.58" fill="#111" stroke="#111" stroke-width="0.28" font-weight="bold" text-anchor="end">4.00</text><text x="576.63" y="445.75" font-size="3.58" fill="#111" stroke="#111" stroke-width="0.28" font-weight="bold" text-anchor="middle">15</text><text x="593.01" y="445.75" font-size="3.58" fill="#111" stroke="#111" stroke-width="0.28" font-weight="bold">$</text><text x="620.97" y="445.75" font-size="3.58" fill="#111" stroke="#111" stroke-width="0.28" font-weight="bold" text-anchor="end">14.00</text><text x="637.35" y="445.75" font-size="3.58" fill="#111" stroke="#111" stroke-width="0.28" font-weight="bold" text-anchor="middle">13</text><text x="653.73" y="445.75" font-size="3.58" fill="#111" stroke="#111" stroke-width="0.28" font-weight="bold">$</text><text x="681.69" y="445.75" font-size="3.58" fill="#111" stroke="#111" stroke-width="0.28" font-weight="bold" text-anchor="end">11.00</text><text x="684.09" y="445.75" font-size="3.58" fill="#111" stroke="#111" stroke-width="0.28" font-weight="bold">$</text><text x="712.05" y="445.75" font-size="3.58" fill="#111" stroke="#111" stroke-width="0.28" font-weight="bold" text-anchor="end">100.00</text><text x="714.45" y="445.75" font-size="3.58" fill="#111" stroke="#111" stroke-width="0.28" font-weight="bold">$</text><text x="742.42" y="445.75" font-size="3.58" fill="#111" stroke="#111" stroke-width="0.28" font-weight="bold" text-anchor="end">88.00</text><text x="744.82" y="445.75" font-size="3.58" fill="#111" stroke="#111" stroke-width="0.28" font-weight="bold">$</text><text x="772.78" y="445.75" font-size="3.58" fill="#111" stroke="#111" stroke-width="0.28" font-weight="bold" text-anchor="end">280.00</text><text x="775.18" y="445.75" font-size="3.58" fill="#111" stroke="#111" stroke-width="0.28" font-weight="bold">$</text><text x="803.14" y="445.75" font-size="3.58" fill="#111" stroke="#111" stroke-width="0.28" font-weight="bold" text-anchor="end">281.00</text><text x="805.54" y="445.75" font-size="3.58" fill="#111" stroke="#111" stroke-width="0.28" font-weight="bold">$</text><text x="833.50" y="445.75" font-size="3.58" fill="#111" stroke="#111" stroke-width="0.28" font-weight="bold" text-anchor="end">29.00</text><line x1="369.90" y1="447.10" x2="834.70" y2="447.10" stroke="#bababa" stroke-width="1.1"/><text x="370.90" y="450.65" font-size="3.70" fill="#111" stroke="#111" stroke-width="0.28" font-weight="bold">Site Prep 3</text><text x="455.18" y="450.65" font-size="3.58" fill="#111" stroke="#111" stroke-width="0.28" font-weight="bold" text-anchor="middle">8</text><text x="471.56" y="450.65" font-size="3.58" fill="#111" stroke="#111" stroke-width="0.28" font-weight="bold">$</text><text x="499.52" y="450.65" font-size="3.58" fill="#111" stroke="#111" stroke-width="0.28" font-weight="bold" text-anchor="end">0.00</text><text x="515.90" y="450.65" font-size="3.58" fill="#111" stroke="#111" stroke-width="0.28" font-weight="bold" text-anchor="middle">8</text><text x="532.28" y="450.65" font-size="3.58" fill="#111" stroke="#111" stroke-width="0.28" font-weight="bold">$</text><text x="560.25" y="450.65" font-size="3.58" fill="#111" stroke="#111" stroke-width="0.28" font-weight="bold" text-anchor="end">4.00</text><text x="576.63" y="450.65" font-size="3.58" fill="#111" stroke="#111" stroke-width="0.28" font-weight="bold" text-anchor="middle">1</text><text x="593.01" y="450.65" font-size="3.58" fill="#111" stroke="#111" stroke-width="0.28" font-weight="bold">$</text><text x="620.97" y="450.65" font-size="3.58" fill="#111" stroke="#111" stroke-width="0.28" font-weight="bold" text-anchor="end">14.00</text><text x="637.35" y="450.65" font-size="3.58" fill="#111" stroke="#111" stroke-width="0.28" font-weight="bold" text-anchor="middle">1</text><text x="653.73" y="450.65" font-size="3.58" fill="#111" stroke="#111" stroke-width="0.28" font-weight="bold">$</text><text x="681.69" y="450.65" font-size="3.58" fill="#111" stroke="#111" stroke-width="0.28" font-weight="bold" text-anchor="end">11.00</text><text x="684.09" y="450.65" font-size="3.58" fill="#111" stroke="#111" stroke-width="0.28" font-weight="bold">$</text><text x="712.05" y="450.65" font-size="3.58" fill="#111" stroke="#111" stroke-width="0.28" font-weight="bold" text-anchor="end">100.00</text><text x="714.45" y="450.65" font-size="3.58" fill="#111" stroke="#111" stroke-width="0.28" font-weight="bold">$</text><text x="742.42" y="450.65" font-size="3.58" fill="#111" stroke="#111" stroke-width="0.28" font-weight="bold" text-anchor="end">88.00</text><text x="744.82" y="450.65" font-size="3.58" fill="#111" stroke="#111" stroke-width="0.28" font-weight="bold">$</text><text x="772.78" y="450.65" font-size="3.58" fill="#111" stroke="#111" stroke-width="0.28" font-weight="bold" text-anchor="end">280.00</text><text x="775.18" y="450.65" font-size="3.58" fill="#111" stroke="#111" stroke-width="0.28" font-weight="bold">$</text><text x="803.14" y="450.65" font-size="3.58" fill="#111" stroke="#111" stroke-width="0.28" font-weight="bold" text-anchor="end">281.00</text><text x="805.54" y="450.65" font-size="3.58" fill="#111" stroke="#111" stroke-width="0.28" font-weight="bold">$</text><text x="833.50" y="450.65" font-size="3.58" fill="#111" stroke="#111" stroke-width="0.28" font-weight="bold" text-anchor="end">29.00</text><line x1="369.90" y1="452.00" x2="834.70" y2="452.00" stroke="#bababa" stroke-width="1.1"/><rect x="369.90" y="452.00" width="464.80" height="5.20" fill="#ffffff"/><line x1="369.90" y1="457.20" x2="834.70" y2="457.20" stroke="#a8a8a8" stroke-width="0.5"/><line x1="440.00" y1="422.60" x2="440.00" y2="457.20" stroke="#a8a8a8" stroke-width="0.5"/><line x1="470.36" y1="422.60" x2="470.36" y2="457.20" stroke="#a8a8a8" stroke-width="0.5"/><line x1="500.72" y1="422.60" x2="500.72" y2="457.20" stroke="#a8a8a8" stroke-width="0.5"/><line x1="531.08" y1="422.60" x2="531.08" y2="457.20" stroke="#a8a8a8" stroke-width="0.5"/><line x1="561.45" y1="422.60" x2="561.45" y2="457.20" stroke="#a8a8a8" stroke-width="0.5"/><line x1="591.81" y1="422.60" x2="591.81" y2="457.20" stroke="#a8a8a8" stroke-width="0.5"/><line x1="622.17" y1="422.60" x2="622.17" y2="457.20" stroke="#a8a8a8" stroke-width="0.5"/><line x1="652.53" y1="422.60" x2="652.53" y2="457.20" stroke="#a8a8a8" stroke-width="0.5"/><line x1="682.89" y1="422.60" x2="682.89" y2="457.20" stroke="#a8a8a8" stroke-width="0.5"/><line x1="713.25" y1="422.60" x2="713.25" y2="457.20" stroke="#a8a8a8" stroke-width="0.5"/><line x1="743.62" y1="422.60" x2="743.62" y2="457.20" stroke="#888" stroke-width="0.5"/><line x1="773.98" y1="422.60" x2="773.98" y2="457.20" stroke="#a8a8a8" stroke-width="0.5"/><line x1="804.34" y1="422.60" x2="804.34" y2="457.20" stroke="#a8a8a8" stroke-width="0.5"/><line x1="834.70" y1="422.60" x2="834.70" y2="457.20" stroke="#a8a8a8" stroke-width="0.5"/><line x1="369.90" y1="418.10" x2="369.90" y2="457.20" stroke="#888" stroke-width="0.5"/><line x1="834.70" y1="418.10" x2="834.70" y2="457.20" stroke="#888" stroke-width="0.5"/><rect x="369.90" y="457.20" width="70.10" height="4.50" fill="#585858"/><text x="371.10" y="460.80" font-size="3.70" fill="#e6e6e6" stroke="#e6e6e6" stroke-width="0.05" font-weight="bold">ONSITE WATER/SEWER</text><rect x="440.00" y="457.20" width="303.62" height="4.50" fill="#efe86a"/><rect x="743.62" y="457.20" width="91.08" height="4.50" fill="#585858"/><text x="744.82" y="460.80" font-size="3.58" fill="#ece36c" stroke="#ece36c" stroke-width="0.05" font-weight="bold">$</text><text x="772.78" y="460.80" font-size="3.58" fill="#ece36c" stroke="#ece36c" stroke-width="0.05" font-weight="bold" text-anchor="end">632.00</text><text x="775.18" y="460.80" font-size="3.58" fill="#ece36c" stroke="#ece36c" stroke-width="0.05" font-weight="bold">$</text><text x="803.14" y="460.80" font-size="3.58" fill="#ece36c" stroke="#ece36c" stroke-width="0.05" font-weight="bold" text-anchor="end">598.00</text><text x="805.54" y="460.80" font-size="3.58" fill="#ece36c" stroke="#ece36c" stroke-width="0.05" font-weight="bold">$</text><text x="833.50" y="460.80" font-size="3.58" fill="#ece36c" stroke="#ece36c" stroke-width="0.05" font-weight="bold" text-anchor="end">34.00</text><rect x="369.90" y="461.70" width="464.80" height="19.70" fill="#ffffff"/><text x="370.90" y="465.26" font-size="3.70" fill="#111" stroke="#111" stroke-width="0.28" font-weight="bold">Soil &amp; Perc Tests</text><text x="455.18" y="465.26" font-size="3.58" fill="#111" stroke="#111" stroke-width="0.28" font-weight="bold" text-anchor="middle">8</text><text x="471.56" y="465.26" font-size="3.58" fill="#111" stroke="#111" stroke-width="0.28" font-weight="bold">$</text><text x="499.52" y="465.26" font-size="3.58" fill="#111" stroke="#111" stroke-width="0.28" font-weight="bold" text-anchor="end">0.00</text><text x="515.90" y="465.26" font-size="3.58" fill="#111" stroke="#111" stroke-width="0.28" font-weight="bold" text-anchor="middle">8</text><text x="532.28" y="465.26" font-size="3.58" fill="#111" stroke="#111" stroke-width="0.28" font-weight="bold">$</text><text x="560.25" y="465.26" font-size="3.58" fill="#111" stroke="#111" stroke-width="0.28" font-weight="bold" text-anchor="end">4.00</text><text x="576.63" y="465.26" font-size="3.58" fill="#111" stroke="#111" stroke-width="0.28" font-weight="bold" text-anchor="middle">15</text><text x="593.01" y="465.26" font-size="3.58" fill="#111" stroke="#111" stroke-width="0.28" font-weight="bold">$</text><text x="620.97" y="465.26" font-size="3.58" fill="#111" stroke="#111" stroke-width="0.28" font-weight="bold" text-anchor="end">14.00</text><text x="637.35" y="465.26" font-size="3.58" fill="#111" stroke="#111" stroke-width="0.28" font-weight="bold" text-anchor="middle">13</text><text x="653.73" y="465.26" font-size="3.58" fill="#111" stroke="#111" stroke-width="0.28" font-weight="bold">$</text><text x="681.69" y="465.26" font-size="3.58" fill="#111" stroke="#111" stroke-width="0.28" font-weight="bold" text-anchor="end">11.00</text><text x="684.09" y="465.26" font-size="3.58" fill="#111" stroke="#111" stroke-width="0.28" font-weight="bold">$</text><text x="712.05" y="465.26" font-size="3.58" fill="#111" stroke="#111" stroke-width="0.28" font-weight="bold" text-anchor="end">100.00</text><text x="714.45" y="465.26" font-size="3.58" fill="#111" stroke="#111" stroke-width="0.28" font-weight="bold">$</text><text x="742.42" y="465.26" font-size="3.58" fill="#111" stroke="#111" stroke-width="0.28" font-weight="bold" text-anchor="end">88.00</text><text x="744.82" y="465.26" font-size="3.58" fill="#111" stroke="#111" stroke-width="0.28" font-weight="bold">$</text><text x="772.78" y="465.26" font-size="3.58" fill="#111" stroke="#111" stroke-width="0.28" font-weight="bold" text-anchor="end">280.00</text><text x="775.18" y="465.26" font-size="3.58" fill="#111" stroke="#111" stroke-width="0.28" font-weight="bold">$</text><text x="803.14" y="465.26" font-size="3.58" fill="#111" stroke="#111" stroke-width="0.28" font-weight="bold" text-anchor="end">281.00</text><text x="805.54" y="465.26" font-size="3.58" fill="#111" stroke="#111" stroke-width="0.28" font-weight="bold">$</text><text x="833.50" y="465.26" font-size="3.58" fill="#111" stroke="#111" stroke-width="0.28" font-weight="bold" text-anchor="end">29.00</text><line x1="369.90" y1="466.62" x2="834.70" y2="466.62" stroke="#bababa" stroke-width="1.1"/><text x="370.90" y="470.19" font-size="3.70" fill="#111" stroke="#111" stroke-width="0.28" font-weight="bold">Septic System</text><text x="455.18" y="470.19" font-size="3.58" fill="#111" stroke="#111" stroke-width="0.28" font-weight="bold" text-anchor="middle">8</text><text x="471.56" y="470.19" font-size="3.58" fill="#111" stroke="#111" stroke-width="0.28" font-weight="bold">$</text><text x="499.52" y="470.19" font-size="3.58" fill="#111" stroke="#111" stroke-width="0.28" font-weight="bold" text-anchor="end">0.00</text><text x="515.90" y="470.19" font-size="3.58" fill="#111" stroke="#111" stroke-width="0.28" font-weight="bold" text-anchor="middle">8</text><text x="532.28" y="470.19" font-size="3.58" fill="#111" stroke="#111" stroke-width="0.28" font-weight="bold">$</text><text x="560.25" y="470.19" font-size="3.58" fill="#111" stroke="#111" stroke-width="0.28" font-weight="bold" text-anchor="end">4.00</text><text x="576.63" y="470.19" font-size="3.58" fill="#111" stroke="#111" stroke-width="0.28" font-weight="bold" text-anchor="middle">1</text><text x="593.01" y="470.19" font-size="3.58" fill="#111" stroke="#111" stroke-width="0.28" font-weight="bold">$</text><text x="620.97" y="470.19" font-size="3.58" fill="#111" stroke="#111" stroke-width="0.28" font-weight="bold" text-anchor="end">14.00</text><text x="637.35" y="470.19" font-size="3.58" fill="#111" stroke="#111" stroke-width="0.28" font-weight="bold" text-anchor="middle">1</text><text x="653.73" y="470.19" font-size="3.58" fill="#111" stroke="#111" stroke-width="0.28" font-weight="bold">$</text><text x="681.69" y="470.19" font-size="3.58" fill="#111" stroke="#111" stroke-width="0.28" font-weight="bold" text-anchor="end">11.00</text><text x="684.09" y="470.19" font-size="3.58" fill="#111" stroke="#111" stroke-width="0.28" font-weight="bold">$</text><text x="712.05" y="470.19" font-size="3.58" fill="#111" stroke="#111" stroke-width="0.28" font-weight="bold" text-anchor="end">100.00</text><text x="714.45" y="470.19" font-size="3.58" fill="#111" stroke="#111" stroke-width="0.28" font-weight="bold">$</text><text x="742.42" y="470.19" font-size="3.58" fill="#111" stroke="#111" stroke-width="0.28" font-weight="bold" text-anchor="end">88.00</text><text x="744.82" y="470.19" font-size="3.58" fill="#111" stroke="#111" stroke-width="0.28" font-weight="bold">$</text><text x="772.78" y="470.19" font-size="3.58" fill="#111" stroke="#111" stroke-width="0.28" font-weight="bold" text-anchor="end">280.00</text><text x="775.18" y="470.19" font-size="3.58" fill="#111" stroke="#111" stroke-width="0.28" font-weight="bold">$</text><text x="803.14" y="470.19" font-size="3.58" fill="#111" stroke="#111" stroke-width="0.28" font-weight="bold" text-anchor="end">281.00</text><text x="805.54" y="470.19" font-size="3.58" fill="#111" stroke="#111" stroke-width="0.28" font-weight="bold">$</text><text x="833.50" y="470.19" font-size="3.58" fill="#111" stroke="#111" stroke-width="0.28" font-weight="bold" text-anchor="end">29.00</text><line x1="369.90" y1="471.55" x2="834.70" y2="471.55" stroke="#bababa" stroke-width="1.1"/><text x="370.90" y="475.11" font-size="3.70" fill="#111" stroke="#111" stroke-width="0.28" font-weight="bold">Dewatering (High Water Table)</text><text x="455.18" y="475.11" font-size="3.58" fill="#111" stroke="#111" stroke-width="0.28" font-weight="bold" text-anchor="middle">8</text><text x="471.56" y="475.11" font-size="3.58" fill="#111" stroke="#111" stroke-width="0.28" font-weight="bold">$</text><text x="499.52" y="475.11" font-size="3.58" fill="#111" stroke="#111" stroke-width="0.28" font-weight="bold" text-anchor="end">0.00</text><text x="515.90" y="475.11" font-size="3.58" fill="#111" stroke="#111" stroke-width="0.28" font-weight="bold" text-anchor="middle">8</text><text x="532.28" y="475.11" font-size="3.58" fill="#111" stroke="#111" stroke-width="0.28" font-weight="bold">$</text><text x="560.25" y="475.11" font-size="3.58" fill="#111" stroke="#111" stroke-width="0.28" font-weight="bold" text-anchor="end">4.00</text><text x="576.63" y="475.11" font-size="3.58" fill="#111" stroke="#111" stroke-width="0.28" font-weight="bold" text-anchor="middle">15</text><text x="593.01" y="475.11" font-size="3.58" fill="#111" stroke="#111" stroke-width="0.28" font-weight="bold">$</text><text x="620.97" y="475.11" font-size="3.58" fill="#111" stroke="#111" stroke-width="0.28" font-weight="bold" text-anchor="end">14.00</text><text x="637.35" y="475.11" font-size="3.58" fill="#111" stroke="#111" stroke-width="0.28" font-weight="bold" text-anchor="middle">13</text><text x="653.73" y="475.11" font-size="3.58" fill="#111" stroke="#111" stroke-width="0.28" font-weight="bold">$</text><text x="681.69" y="475.11" font-size="3.58" fill="#111" stroke="#111" stroke-width="0.28" font-weight="bold" text-anchor="end">11.00</text><text x="684.09" y="475.11" font-size="3.58" fill="#111" stroke="#111" stroke-width="0.28" font-weight="bold">$</text><text x="712.05" y="475.11" font-size="3.58" fill="#111" stroke="#111" stroke-width="0.28" font-weight="bold" text-anchor="end">100.00</text><text x="714.45" y="475.11" font-size="3.58" fill="#111" stroke="#111" stroke-width="0.28" font-weight="bold">$</text><text x="742.42" y="475.11" font-size="3.58" fill="#111" stroke="#111" stroke-width="0.28" font-weight="bold" text-anchor="end">88.00</text><text x="744.82" y="475.11" font-size="3.58" fill="#111" stroke="#111" stroke-width="0.28" font-weight="bold">$</text><text x="772.78" y="475.11" font-size="3.58" fill="#111" stroke="#111" stroke-width="0.28" font-weight="bold" text-anchor="end">280.00</text><text x="775.18" y="475.11" font-size="3.58" fill="#111" stroke="#111" stroke-width="0.28" font-weight="bold">$</text><text x="803.14" y="475.11" font-size="3.58" fill="#111" stroke="#111" stroke-width="0.28" font-weight="bold" text-anchor="end">281.00</text><text x="805.54" y="475.11" font-size="3.58" fill="#111" stroke="#111" stroke-width="0.28" font-weight="bold">$</text><text x="833.50" y="475.11" font-size="3.58" fill="#111" stroke="#111" stroke-width="0.28" font-weight="bold" text-anchor="end">29.00</text><line x1="369.90" y1="476.48" x2="834.70" y2="476.48" stroke="#bababa" stroke-width="1.1"/><text x="370.90" y="480.04" font-size="3.70" fill="#111" stroke="#111" stroke-width="0.28" font-weight="bold">Other</text><text x="455.18" y="480.04" font-size="3.58" fill="#111" stroke="#111" stroke-width="0.28" font-weight="bold" text-anchor="middle">8</text><text x="471.56" y="480.04" font-size="3.58" fill="#111" stroke="#111" stroke-width="0.28" font-weight="bold">$</text><text x="499.52" y="480.04" font-size="3.58" fill="#111" stroke="#111" stroke-width="0.28" font-weight="bold" text-anchor="end">0.00</text><text x="515.90" y="480.04" font-size="3.58" fill="#111" stroke="#111" stroke-width="0.28" font-weight="bold" text-anchor="middle">8</text><text x="532.28" y="480.04" font-size="3.58" fill="#111" stroke="#111" stroke-width="0.28" font-weight="bold">$</text><text x="560.25" y="480.04" font-size="3.58" fill="#111" stroke="#111" stroke-width="0.28" font-weight="bold" text-anchor="end">4.00</text><text x="576.63" y="480.04" font-size="3.58" fill="#111" stroke="#111" stroke-width="0.28" font-weight="bold" text-anchor="middle">1</text><text x="593.01" y="480.04" font-size="3.58" fill="#111" stroke="#111" stroke-width="0.28" font-weight="bold">$</text><text x="620.97" y="480.04" font-size="3.58" fill="#111" stroke="#111" stroke-width="0.28" font-weight="bold" text-anchor="end">14.00</text><text x="637.35" y="480.04" font-size="3.58" fill="#111" stroke="#111" stroke-width="0.28" font-weight="bold" text-anchor="middle">1</text><text x="653.73" y="480.04" font-size="3.58" fill="#111" stroke="#111" stroke-width="0.28" font-weight="bold">$</text><text x="681.69" y="480.04" font-size="3.58" fill="#111" stroke="#111" stroke-width="0.28" font-weight="bold" text-anchor="end">11.00</text><text x="684.09" y="480.04" font-size="3.58" fill="#111" stroke="#111" stroke-width="0.28" font-weight="bold">$</text><text x="712.05" y="480.04" font-size="3.58" fill="#111" stroke="#111" stroke-width="0.28" font-weight="bold" text-anchor="end">100.00</text><text x="714.45" y="480.04" font-size="3.58" fill="#111" stroke="#111" stroke-width="0.28" font-weight="bold">$</text><text x="742.42" y="480.04" font-size="3.58" fill="#111" stroke="#111" stroke-width="0.28" font-weight="bold" text-anchor="end">88.00</text><text x="744.82" y="480.04" font-size="3.58" fill="#111" stroke="#111" stroke-width="0.28" font-weight="bold">$</text><text x="772.78" y="480.04" font-size="3.58" fill="#111" stroke="#111" stroke-width="0.28" font-weight="bold" text-anchor="end">280.00</text><text x="775.18" y="480.04" font-size="3.58" fill="#111" stroke="#111" stroke-width="0.28" font-weight="bold">$</text><text x="803.14" y="480.04" font-size="3.58" fill="#111" stroke="#111" stroke-width="0.28" font-weight="bold" text-anchor="end">281.00</text><text x="805.54" y="480.04" font-size="3.58" fill="#111" stroke="#111" stroke-width="0.28" font-weight="bold">$</text><text x="833.50" y="480.04" font-size="3.58" fill="#111" stroke="#111" stroke-width="0.28" font-weight="bold" text-anchor="end">29.00</text><line x1="369.90" y1="481.40" x2="834.70" y2="481.40" stroke="#bababa" stroke-width="1.1"/><rect x="369.90" y="481.40" width="464.80" height="5.20" fill="#ffffff"/><line x1="369.90" y1="486.60" x2="834.70" y2="486.60" stroke="#a8a8a8" stroke-width="0.5"/><line x1="440.00" y1="461.70" x2="440.00" y2="486.60" stroke="#a8a8a8" stroke-width="0.5"/><line x1="470.36" y1="461.70" x2="470.36" y2="486.60" stroke="#a8a8a8" stroke-width="0.5"/><line x1="500.72" y1="461.70" x2="500.72" y2="486.60" stroke="#a8a8a8" stroke-width="0.5"/><line x1="531.08" y1="461.70" x2="531.08" y2="486.60" stroke="#a8a8a8" stroke-width="0.5"/><line x1="561.45" y1="461.70" x2="561.45" y2="486.60" stroke="#a8a8a8" stroke-width="0.5"/><line x1="591.81" y1="461.70" x2="591.81" y2="486.60" stroke="#a8a8a8" stroke-width="0.5"/><line x1="622.17" y1="461.70" x2="622.17" y2="486.60" stroke="#a8a8a8" stroke-width="0.5"/><line x1="652.53" y1="461.70" x2="652.53" y2="486.60" stroke="#a8a8a8" stroke-width="0.5"/><line x1="682.89" y1="461.70" x2="682.89" y2="486.60" stroke="#a8a8a8" stroke-width="0.5"/><line x1="713.25" y1="461.70" x2="713.25" y2="486.60" stroke="#a8a8a8" stroke-width="0.5"/><line x1="743.62" y1="461.70" x2="743.62" y2="486.60" stroke="#888" stroke-width="0.5"/><line x1="773.98" y1="461.70" x2="773.98" y2="486.60" stroke="#a8a8a8" stroke-width="0.5"/><line x1="804.34" y1="461.70" x2="804.34" y2="486.60" stroke="#a8a8a8" stroke-width="0.5"/><line x1="834.70" y1="461.70" x2="834.70" y2="486.60" stroke="#a8a8a8" stroke-width="0.5"/><line x1="369.90" y1="457.20" x2="369.90" y2="486.60" stroke="#888" stroke-width="0.5"/><line x1="834.70" y1="457.20" x2="834.70" y2="486.60" stroke="#888" stroke-width="0.5"/><rect x="369.90" y="486.60" width="70.10" height="4.60" fill="#585858"/><text x="371.10" y="490.20" font-size="3.70" fill="#e6e6e6" stroke="#e6e6e6" stroke-width="0.05" font-weight="bold">UTILITIES</text><rect x="440.00" y="486.60" width="303.62" height="4.60" fill="#efe86a"/><rect x="743.62" y="486.60" width="91.08" height="4.60" fill="#585858"/><text x="744.82" y="490.20" font-size="3.58" fill="#ece36c" stroke="#ece36c" stroke-width="0.05" font-weight="bold">$</text><text x="772.78" y="490.20" font-size="3.58" fill="#ece36c" stroke="#ece36c" stroke-width="0.05" font-weight="bold" text-anchor="end">520.00</text><text x="775.18" y="490.20" font-size="3.58" fill="#ece36c" stroke="#ece36c" stroke-width="0.05" font-weight="bold">$</text><text x="803.14" y="490.20" font-size="3.58" fill="#ece36c" stroke="#ece36c" stroke-width="0.05" font-weight="bold" text-anchor="end">463.00</text><text x="805.54" y="490.20" font-size="3.58" fill="#ece36c" stroke="#ece36c" stroke-width="0.05" font-weight="bold">$</text><text x="833.50" y="490.20" font-size="3.58" fill="#ece36c" stroke="#ece36c" stroke-width="0.05" font-weight="bold" text-anchor="end">57.00</text><rect x="369.90" y="491.20" width="464.80" height="19.00" fill="#ffffff"/><text x="370.90" y="494.68" font-size="3.70" fill="#111" stroke="#111" stroke-width="0.28" font-weight="bold">Water</text><text x="455.18" y="494.68" font-size="3.58" fill="#111" stroke="#111" stroke-width="0.28" font-weight="bold" text-anchor="middle">8</text><text x="471.56" y="494.68" font-size="3.58" fill="#111" stroke="#111" stroke-width="0.28" font-weight="bold">$</text><text x="499.52" y="494.68" font-size="3.58" fill="#111" stroke="#111" stroke-width="0.28" font-weight="bold" text-anchor="end">0.00</text><text x="515.90" y="494.68" font-size="3.58" fill="#111" stroke="#111" stroke-width="0.28" font-weight="bold" text-anchor="middle">8</text><text x="532.28" y="494.68" font-size="3.58" fill="#111" stroke="#111" stroke-width="0.28" font-weight="bold">$</text><text x="560.25" y="494.68" font-size="3.58" fill="#111" stroke="#111" stroke-width="0.28" font-weight="bold" text-anchor="end">4.00</text><text x="576.63" y="494.68" font-size="3.58" fill="#111" stroke="#111" stroke-width="0.28" font-weight="bold" text-anchor="middle">15</text><text x="593.01" y="494.68" font-size="3.58" fill="#111" stroke="#111" stroke-width="0.28" font-weight="bold">$</text><text x="620.97" y="494.68" font-size="3.58" fill="#111" stroke="#111" stroke-width="0.28" font-weight="bold" text-anchor="end">14.00</text><text x="637.35" y="494.68" font-size="3.58" fill="#111" stroke="#111" stroke-width="0.28" font-weight="bold" text-anchor="middle">13</text><text x="653.73" y="494.68" font-size="3.58" fill="#111" stroke="#111" stroke-width="0.28" font-weight="bold">$</text><text x="681.69" y="494.68" font-size="3.58" fill="#111" stroke="#111" stroke-width="0.28" font-weight="bold" text-anchor="end">11.00</text><text x="684.09" y="494.68" font-size="3.58" fill="#111" stroke="#111" stroke-width="0.28" font-weight="bold">$</text><text x="712.05" y="494.68" font-size="3.58" fill="#111" stroke="#111" stroke-width="0.28" font-weight="bold" text-anchor="end">100.00</text><text x="714.45" y="494.68" font-size="3.58" fill="#111" stroke="#111" stroke-width="0.28" font-weight="bold">$</text><text x="742.42" y="494.68" font-size="3.58" fill="#111" stroke="#111" stroke-width="0.28" font-weight="bold" text-anchor="end">88.00</text><text x="744.82" y="494.68" font-size="3.58" fill="#111" stroke="#111" stroke-width="0.28" font-weight="bold">$</text><text x="772.78" y="494.68" font-size="3.58" fill="#111" stroke="#111" stroke-width="0.28" font-weight="bold" text-anchor="end">280.00</text><text x="775.18" y="494.68" font-size="3.58" fill="#111" stroke="#111" stroke-width="0.28" font-weight="bold">$</text><text x="803.14" y="494.68" font-size="3.58" fill="#111" stroke="#111" stroke-width="0.28" font-weight="bold" text-anchor="end">281.00</text><text x="805.54" y="494.68" font-size="3.58" fill="#111" stroke="#111" stroke-width="0.28" font-weight="bold">$</text><text x="833.50" y="494.68" font-size="3.58" fill="#111" stroke="#111" stroke-width="0.28" font-weight="bold" text-anchor="end">29.00</text><line x1="369.90" y1="495.95" x2="834.70" y2="495.95" stroke="#bababa" stroke-width="1.1"/><text x="370.90" y="499.55" font-size="3.70" fill="#111" stroke="#111" stroke-width="0.28" font-weight="bold">Electrical: Permit, Connection Fee,</text><text x="370.90" y="504.30" font-size="3.70" fill="#111" stroke="#111" stroke-width="0.28" font-weight="bold">Installation</text><text x="455.18" y="501.80" font-size="3.58" fill="#111" stroke="#111" stroke-width="0.28" font-weight="bold" text-anchor="middle">8</text><text x="471.56" y="501.80" font-size="3.58" fill="#111" stroke="#111" stroke-width="0.28" font-weight="bold">$</text><text x="499.52" y="501.80" font-size="3.58" fill="#111" stroke="#111" stroke-width="0.28" font-weight="bold" text-anchor="end">0.00</text><text x="515.90" y="501.80" font-size="3.58" fill="#111" stroke="#111" stroke-width="0.28" font-weight="bold" text-anchor="middle">8</text><text x="532.28" y="501.80" font-size="3.58" fill="#111" stroke="#111" stroke-width="0.28" font-weight="bold">$</text><text x="560.25" y="501.80" font-size="3.58" fill="#111" stroke="#111" stroke-width="0.28" font-weight="bold" text-anchor="end">4.00</text><text x="576.63" y="501.80" font-size="3.58" fill="#111" stroke="#111" stroke-width="0.28" font-weight="bold" text-anchor="middle">1</text><text x="593.01" y="501.80" font-size="3.58" fill="#111" stroke="#111" stroke-width="0.28" font-weight="bold">$</text><text x="620.97" y="501.80" font-size="3.58" fill="#111" stroke="#111" stroke-width="0.28" font-weight="bold" text-anchor="end">14.00</text><text x="637.35" y="501.80" font-size="3.58" fill="#111" stroke="#111" stroke-width="0.28" font-weight="bold" text-anchor="middle">1</text><text x="653.73" y="501.80" font-size="3.58" fill="#111" stroke="#111" stroke-width="0.28" font-weight="bold">$</text><text x="681.69" y="501.80" font-size="3.58" fill="#111" stroke="#111" stroke-width="0.28" font-weight="bold" text-anchor="end">11.00</text><text x="684.09" y="501.80" font-size="3.58" fill="#111" stroke="#111" stroke-width="0.28" font-weight="bold">$</text><text x="712.05" y="501.80" font-size="3.58" fill="#111" stroke="#111" stroke-width="0.28" font-weight="bold" text-anchor="end">100.00</text><text x="714.45" y="501.80" font-size="3.58" fill="#111" stroke="#111" stroke-width="0.28" font-weight="bold">$</text><text x="742.42" y="501.80" font-size="3.58" fill="#111" stroke="#111" stroke-width="0.28" font-weight="bold" text-anchor="end">88.00</text><text x="744.82" y="501.80" font-size="3.58" fill="#111" stroke="#111" stroke-width="0.28" font-weight="bold">$</text><text x="772.78" y="501.80" font-size="3.58" fill="#111" stroke="#111" stroke-width="0.28" font-weight="bold" text-anchor="end">280.00</text><text x="775.18" y="501.80" font-size="3.58" fill="#111" stroke="#111" stroke-width="0.28" font-weight="bold">$</text><text x="803.14" y="501.80" font-size="3.58" fill="#111" stroke="#111" stroke-width="0.28" font-weight="bold" text-anchor="end">281.00</text><text x="805.54" y="501.80" font-size="3.58" fill="#111" stroke="#111" stroke-width="0.28" font-weight="bold">$</text><text x="833.50" y="501.80" font-size="3.58" fill="#111" stroke="#111" stroke-width="0.28" font-weight="bold" text-anchor="end">29.00</text><line x1="369.90" y1="505.45" x2="834.70" y2="505.45" stroke="#bababa" stroke-width="1.1"/><text x="370.90" y="508.93" font-size="3.70" fill="#111" stroke="#111" stroke-width="0.28" font-weight="bold">Other</text><text x="455.18" y="508.93" font-size="3.58" fill="#111" stroke="#111" stroke-width="0.28" font-weight="bold" text-anchor="middle">8</text><text x="471.56" y="508.93" font-size="3.58" fill="#111" stroke="#111" stroke-width="0.28" font-weight="bold">$</text><text x="499.52" y="508.93" font-size="3.58" fill="#111" stroke="#111" stroke-width="0.28" font-weight="bold" text-anchor="end">0.00</text><text x="515.90" y="508.93" font-size="3.58" fill="#111" stroke="#111" stroke-width="0.28" font-weight="bold" text-anchor="middle">8</text><text x="532.28" y="508.93" font-size="3.58" fill="#111" stroke="#111" stroke-width="0.28" font-weight="bold">$</text><text x="560.25" y="508.93" font-size="3.58" fill="#111" stroke="#111" stroke-width="0.28" font-weight="bold" text-anchor="end">4.00</text><text x="576.63" y="508.93" font-size="3.58" fill="#111" stroke="#111" stroke-width="0.28" font-weight="bold" text-anchor="middle">15</text><text x="593.01" y="508.93" font-size="3.58" fill="#111" stroke="#111" stroke-width="0.28" font-weight="bold">$</text><text x="620.97" y="508.93" font-size="3.58" fill="#111" stroke="#111" stroke-width="0.28" font-weight="bold" text-anchor="end">14.00</text><text x="637.35" y="508.93" font-size="3.58" fill="#111" stroke="#111" stroke-width="0.28" font-weight="bold" text-anchor="middle">13</text><text x="653.73" y="508.93" font-size="3.58" fill="#111" stroke="#111" stroke-width="0.28" font-weight="bold">$</text><text x="681.69" y="508.93" font-size="3.58" fill="#111" stroke="#111" stroke-width="0.28" font-weight="bold" text-anchor="end">11.00</text><text x="684.09" y="508.93" font-size="3.58" fill="#111" stroke="#111" stroke-width="0.28" font-weight="bold">$</text><text x="712.05" y="508.93" font-size="3.58" fill="#111" stroke="#111" stroke-width="0.28" font-weight="bold" text-anchor="end">100.00</text><text x="714.45" y="508.93" font-size="3.58" fill="#111" stroke="#111" stroke-width="0.28" font-weight="bold">$</text><text x="742.42" y="508.93" font-size="3.58" fill="#111" stroke="#111" stroke-width="0.28" font-weight="bold" text-anchor="end">88.00</text><text x="744.82" y="508.93" font-size="3.58" fill="#111" stroke="#111" stroke-width="0.28" font-weight="bold">$</text><text x="772.78" y="508.93" font-size="3.58" fill="#111" stroke="#111" stroke-width="0.28" font-weight="bold" text-anchor="end">280.00</text><text x="775.18" y="508.93" font-size="3.58" fill="#111" stroke="#111" stroke-width="0.28" font-weight="bold">$</text><text x="803.14" y="508.93" font-size="3.58" fill="#111" stroke="#111" stroke-width="0.28" font-weight="bold" text-anchor="end">281.00</text><text x="805.54" y="508.93" font-size="3.58" fill="#111" stroke="#111" stroke-width="0.28" font-weight="bold">$</text><text x="833.50" y="508.93" font-size="3.58" fill="#111" stroke="#111" stroke-width="0.28" font-weight="bold" text-anchor="end">29.00</text><line x1="369.90" y1="510.20" x2="834.70" y2="510.20" stroke="#bababa" stroke-width="1.1"/><rect x="369.90" y="510.20" width="464.80" height="5.20" fill="#ffffff"/><line x1="369.90" y1="515.40" x2="834.70" y2="515.40" stroke="#a8a8a8" stroke-width="0.5"/><line x1="440.00" y1="491.20" x2="440.00" y2="515.40" stroke="#a8a8a8" stroke-width="0.5"/><line x1="470.36" y1="491.20" x2="470.36" y2="515.40" stroke="#a8a8a8" stroke-width="0.5"/><line x1="500.72" y1="491.20" x2="500.72" y2="515.40" stroke="#a8a8a8" stroke-width="0.5"/><line x1="531.08" y1="491.20" x2="531.08" y2="515.40" stroke="#a8a8a8" stroke-width="0.5"/><line x1="561.45" y1="491.20" x2="561.45" y2="515.40" stroke="#a8a8a8" stroke-width="0.5"/><line x1="591.81" y1="491.20" x2="591.81" y2="515.40" stroke="#a8a8a8" stroke-width="0.5"/><line x1="622.17" y1="491.20" x2="622.17" y2="515.40" stroke="#a8a8a8" stroke-width="0.5"/><line x1="652.53" y1="491.20" x2="652.53" y2="515.40" stroke="#a8a8a8" stroke-width="0.5"/><line x1="682.89" y1="491.20" x2="682.89" y2="515.40" stroke="#a8a8a8" stroke-width="0.5"/><line x1="713.25" y1="491.20" x2="713.25" y2="515.40" stroke="#a8a8a8" stroke-width="0.5"/><line x1="743.62" y1="491.20" x2="743.62" y2="515.40" stroke="#888" stroke-width="0.5"/><line x1="773.98" y1="491.20" x2="773.98" y2="515.40" stroke="#a8a8a8" stroke-width="0.5"/><line x1="804.34" y1="491.20" x2="804.34" y2="515.40" stroke="#a8a8a8" stroke-width="0.5"/><line x1="834.70" y1="491.20" x2="834.70" y2="515.40" stroke="#a8a8a8" stroke-width="0.5"/><line x1="369.90" y1="486.60" x2="369.90" y2="515.40" stroke="#888" stroke-width="0.5"/><line x1="834.70" y1="486.60" x2="834.70" y2="515.40" stroke="#888" stroke-width="0.5"/><rect x="369.90" y="515.40" width="70.10" height="4.70" fill="#585858"/><text x="371.10" y="519.00" font-size="3.70" fill="#e6e6e6" stroke="#e6e6e6" stroke-width="0.05" font-weight="bold">EXCAVATION &amp; EARTHWORK</text><rect x="440.00" y="515.40" width="303.62" height="4.70" fill="#efe86a"/><rect x="743.62" y="515.40" width="91.08" height="4.70" fill="#585858"/><text x="744.82" y="519.00" font-size="3.58" fill="#ece36c" stroke="#ece36c" stroke-width="0.05" font-weight="bold">$</text><text x="772.78" y="519.00" font-size="3.58" fill="#ece36c" stroke="#ece36c" stroke-width="0.05" font-weight="bold" text-anchor="end">4,070.00</text><text x="775.18" y="519.00" font-size="3.58" fill="#ece36c" stroke="#ece36c" stroke-width="0.05" font-weight="bold">$</text><text x="803.14" y="519.00" font-size="3.58" fill="#ece36c" stroke="#ece36c" stroke-width="0.05" font-weight="bold" text-anchor="end">3,711.00</text><text x="805.54" y="519.00" font-size="3.58" fill="#ece36c" stroke="#ece36c" stroke-width="0.05" font-weight="bold">$</text><text x="833.50" y="519.00" font-size="3.58" fill="#ece36c" stroke="#ece36c" stroke-width="0.05" font-weight="bold" text-anchor="end">359.00</text><rect x="369.90" y="520.10" width="464.80" height="9.50" fill="#ffffff"/><text x="370.90" y="523.58" font-size="3.70" fill="#111" stroke="#111" stroke-width="0.28" font-weight="bold">Cut &amp; Fill</text><text x="455.18" y="523.58" font-size="3.58" fill="#111" stroke="#111" stroke-width="0.28" font-weight="bold" text-anchor="middle">24</text><text x="471.56" y="523.58" font-size="3.58" fill="#111" stroke="#111" stroke-width="0.28" font-weight="bold">$</text><text x="499.52" y="523.58" font-size="3.58" fill="#111" stroke="#111" stroke-width="0.28" font-weight="bold" text-anchor="end">0.00</text><text x="515.90" y="523.58" font-size="3.58" fill="#111" stroke="#111" stroke-width="0.28" font-weight="bold" text-anchor="middle">24</text><text x="532.28" y="523.58" font-size="3.58" fill="#111" stroke="#111" stroke-width="0.28" font-weight="bold">$</text><text x="560.25" y="523.58" font-size="3.58" fill="#111" stroke="#111" stroke-width="0.28" font-weight="bold" text-anchor="end">4.00</text><text x="576.63" y="523.58" font-size="3.58" fill="#111" stroke="#111" stroke-width="0.28" font-weight="bold" text-anchor="middle">1</text><text x="593.01" y="523.58" font-size="3.58" fill="#111" stroke="#111" stroke-width="0.28" font-weight="bold">$</text><text x="620.97" y="523.58" font-size="3.58" fill="#111" stroke="#111" stroke-width="0.28" font-weight="bold" text-anchor="end">14.00</text><text x="637.35" y="523.58" font-size="3.58" fill="#111" stroke="#111" stroke-width="0.28" font-weight="bold" text-anchor="middle">1</text><text x="653.73" y="523.58" font-size="3.58" fill="#111" stroke="#111" stroke-width="0.28" font-weight="bold">$</text><text x="681.69" y="523.58" font-size="3.58" fill="#111" stroke="#111" stroke-width="0.28" font-weight="bold" text-anchor="end">11.00</text><text x="684.09" y="523.58" font-size="3.58" fill="#111" stroke="#111" stroke-width="0.28" font-weight="bold">$</text><text x="712.05" y="523.58" font-size="3.58" fill="#111" stroke="#111" stroke-width="0.28" font-weight="bold" text-anchor="end">100.00</text><text x="714.45" y="523.58" font-size="3.58" fill="#111" stroke="#111" stroke-width="0.28" font-weight="bold">$</text><text x="742.42" y="523.58" font-size="3.58" fill="#111" stroke="#111" stroke-width="0.28" font-weight="bold" text-anchor="end">88.00</text><text x="744.82" y="523.58" font-size="3.58" fill="#111" stroke="#111" stroke-width="0.28" font-weight="bold">$</text><text x="772.78" y="523.58" font-size="3.58" fill="#111" stroke="#111" stroke-width="0.28" font-weight="bold" text-anchor="end">280.00</text><text x="775.18" y="523.58" font-size="3.58" fill="#111" stroke="#111" stroke-width="0.28" font-weight="bold">$</text><text x="803.14" y="523.58" font-size="3.58" fill="#111" stroke="#111" stroke-width="0.28" font-weight="bold" text-anchor="end">281.00</text><text x="805.54" y="523.58" font-size="3.58" fill="#111" stroke="#111" stroke-width="0.28" font-weight="bold">$</text><text x="833.50" y="523.58" font-size="3.58" fill="#111" stroke="#111" stroke-width="0.28" font-weight="bold" text-anchor="end">29.00</text><line x1="369.90" y1="524.85" x2="834.70" y2="524.85" stroke="#bababa" stroke-width="1.1"/><text x="370.90" y="528.33" font-size="3.70" fill="#111" stroke="#111" stroke-width="0.28" font-weight="bold">Blasting</text><text x="455.18" y="528.33" font-size="3.58" fill="#111" stroke="#111" stroke-width="0.28" font-weight="bold" text-anchor="middle">12</text><text x="471.56" y="528.33" font-size="3.58" fill="#111" stroke="#111" stroke-width="0.28" font-weight="bold">$</text><text x="499.52" y="528.33" font-size="3.58" fill="#111" stroke="#111" stroke-width="0.28" font-weight="bold" text-anchor="end">0.00</text><text x="515.90" y="528.33" font-size="3.58" fill="#111" stroke="#111" stroke-width="0.28" font-weight="bold" text-anchor="middle">12</text><text x="532.28" y="528.33" font-size="3.58" fill="#111" stroke="#111" stroke-width="0.28" font-weight="bold">$</text><text x="560.25" y="528.33" font-size="3.58" fill="#111" stroke="#111" stroke-width="0.28" font-weight="bold" text-anchor="end">4.00</text><text x="576.63" y="528.33" font-size="3.58" fill="#111" stroke="#111" stroke-width="0.28" font-weight="bold" text-anchor="middle">15</text><text x="593.01" y="528.33" font-size="3.58" fill="#111" stroke="#111" stroke-width="0.28" font-weight="bold">$</text><text x="620.97" y="528.33" font-size="3.58" fill="#111" stroke="#111" stroke-width="0.28" font-weight="bold" text-anchor="end">14.00</text><text x="637.35" y="528.33" font-size="3.58" fill="#111" stroke="#111" stroke-width="0.28" font-weight="bold" text-anchor="middle">13</text><text x="653.73" y="528.33" font-size="3.58" fill="#111" stroke="#111" stroke-width="0.28" font-weight="bold">$</text><text x="681.69" y="528.33" font-size="3.58" fill="#111" stroke="#111" stroke-width="0.28" font-weight="bold" text-anchor="end">11.00</text><text x="684.09" y="528.33" font-size="3.58" fill="#111" stroke="#111" stroke-width="0.28" font-weight="bold">$</text><text x="712.05" y="528.33" font-size="3.58" fill="#111" stroke="#111" stroke-width="0.28" font-weight="bold" text-anchor="end">100.00</text><text x="714.45" y="528.33" font-size="3.58" fill="#111" stroke="#111" stroke-width="0.28" font-weight="bold">$</text><text x="742.42" y="528.33" font-size="3.58" fill="#111" stroke="#111" stroke-width="0.28" font-weight="bold" text-anchor="end">88.00</text><text x="744.82" y="528.33" font-size="3.58" fill="#111" stroke="#111" stroke-width="0.28" font-weight="bold">$</text><text x="772.78" y="528.33" font-size="3.58" fill="#111" stroke="#111" stroke-width="0.28" font-weight="bold" text-anchor="end">280.00</text><text x="775.18" y="528.33" font-size="3.58" fill="#111" stroke="#111" stroke-width="0.28" font-weight="bold">$</text><text x="803.14" y="528.33" font-size="3.58" fill="#111" stroke="#111" stroke-width="0.28" font-weight="bold" text-anchor="end">281.00</text><text x="805.54" y="528.33" font-size="3.58" fill="#111" stroke="#111" stroke-width="0.28" font-weight="bold">$</text><text x="833.50" y="528.33" font-size="3.58" fill="#111" stroke="#111" stroke-width="0.28" font-weight="bold" text-anchor="end">29.00</text><line x1="369.90" y1="529.60" x2="834.70" y2="529.60" stroke="#bababa" stroke-width="1.1"/><line x1="440.00" y1="520.10" x2="440.00" y2="529.60" stroke="#a8a8a8" stroke-width="0.5"/><line x1="470.36" y1="520.10" x2="470.36" y2="529.60" stroke="#a8a8a8" stroke-width="0.5"/><line x1="500.72" y1="520.10" x2="500.72" y2="529.60" stroke="#a8a8a8" stroke-width="0.5"/><line x1="531.08" y1="520.10" x2="531.08" y2="529.60" stroke="#a8a8a8" stroke-width="0.5"/><line x1="561.45" y1="520.10" x2="561.45" y2="529.60" stroke="#a8a8a8" stroke-width="0.5"/><line x1="591.81" y1="520.10" x2="591.81" y2="529.60" stroke="#a8a8a8" stroke-width="0.5"/><line x1="622.17" y1="520.10" x2="622.17" y2="529.60" stroke="#a8a8a8" stroke-width="0.5"/><line x1="652.53" y1="520.10" x2="652.53" y2="529.60" stroke="#a8a8a8" stroke-width="0.5"/><line x1="682.89" y1="520.10" x2="682.89" y2="529.60" stroke="#a8a8a8" stroke-width="0.5"/><line x1="713.25" y1="520.10" x2="713.25" y2="529.60" stroke="#a8a8a8" stroke-width="0.5"/><line x1="743.62" y1="520.10" x2="743.62" y2="529.60" stroke="#888" stroke-width="0.5"/><line x1="773.98" y1="520.10" x2="773.98" y2="529.60" stroke="#a8a8a8" stroke-width="0.5"/><line x1="804.34" y1="520.10" x2="804.34" y2="529.60" stroke="#a8a8a8" stroke-width="0.5"/><line x1="834.70" y1="520.10" x2="834.70" y2="529.60" stroke="#a8a8a8" stroke-width="0.5"/><line x1="369.90" y1="515.40" x2="369.90" y2="529.60" stroke="#888" stroke-width="0.5"/><line x1="834.70" y1="515.40" x2="834.70" y2="529.60" stroke="#888" stroke-width="0.5"/></svg>
<div style="position:absolute;left:0;top:798.7px;width:1200px;height:31.4px;background:#1fa264"></div>
<div style="position:absolute;left:13px;top:778px;width:46px;height:45.5px;border-radius:6px;background:#fff"></div>
<svg style="position:absolute;left:0;top:0" width="1200" height="840" viewBox="0 0 1200 840">
<rect x="23.9" y="785.6" width="26.1" height="29.4" rx="1.2" fill="#185c37"/>
<rect x="23.9" y="785.6" width="26.1" height="22" fill="#188a4a"/>
<rect x="23.9" y="785.6" width="26.1" height="14.6" fill="#21a366"/>
<rect x="37" y="785.6" width="13" height="7.4" fill="#4bb880"/>
<rect x="17" y="792.1" width="16.2" height="16.8" rx="1.2" fill="#138046"/>
<path d="M21.8 795.8 L28.6 805.0 M28.5 795.8 L21.7 805.0" stroke="#fff" stroke-width="1.75" fill="none"/>
</svg>
<div class="t" style="left:67px;top:806.62px;font-size:15.3px;line-height:18.36px;font-weight:normal;color:#ffffff;letter-spacing:0.03px;">SUPPORTED FORMAT:</div>
<div class="t" style="left:239.5px;top:806.62px;font-size:15.3px;line-height:18.36px;font-weight:bold;color:#ffffff;letter-spacing:0.24px;-webkit-text-stroke:0.3px #fff;">MS EXCEL</div>
<div class="t" style="left:1067.3px;top:803.93px;font-size:15.5px;line-height:18.6px;font-weight:bold;color:#ffffff;letter-spacing:0.5px;transform:scaleX(1.0258);transform-origin:0 0;">Best</div>
<div class="t" style="left:1106.1px;top:803.93px;font-size:15.5px;line-height:18.6px;font-weight:normal;color:#ffffff;letter-spacing:0.6px;transform:scaleX(1.0737);transform-origin:0 0;-webkit-text-stroke:0.35px #fff;">Templates</div>
</div></body></html>
